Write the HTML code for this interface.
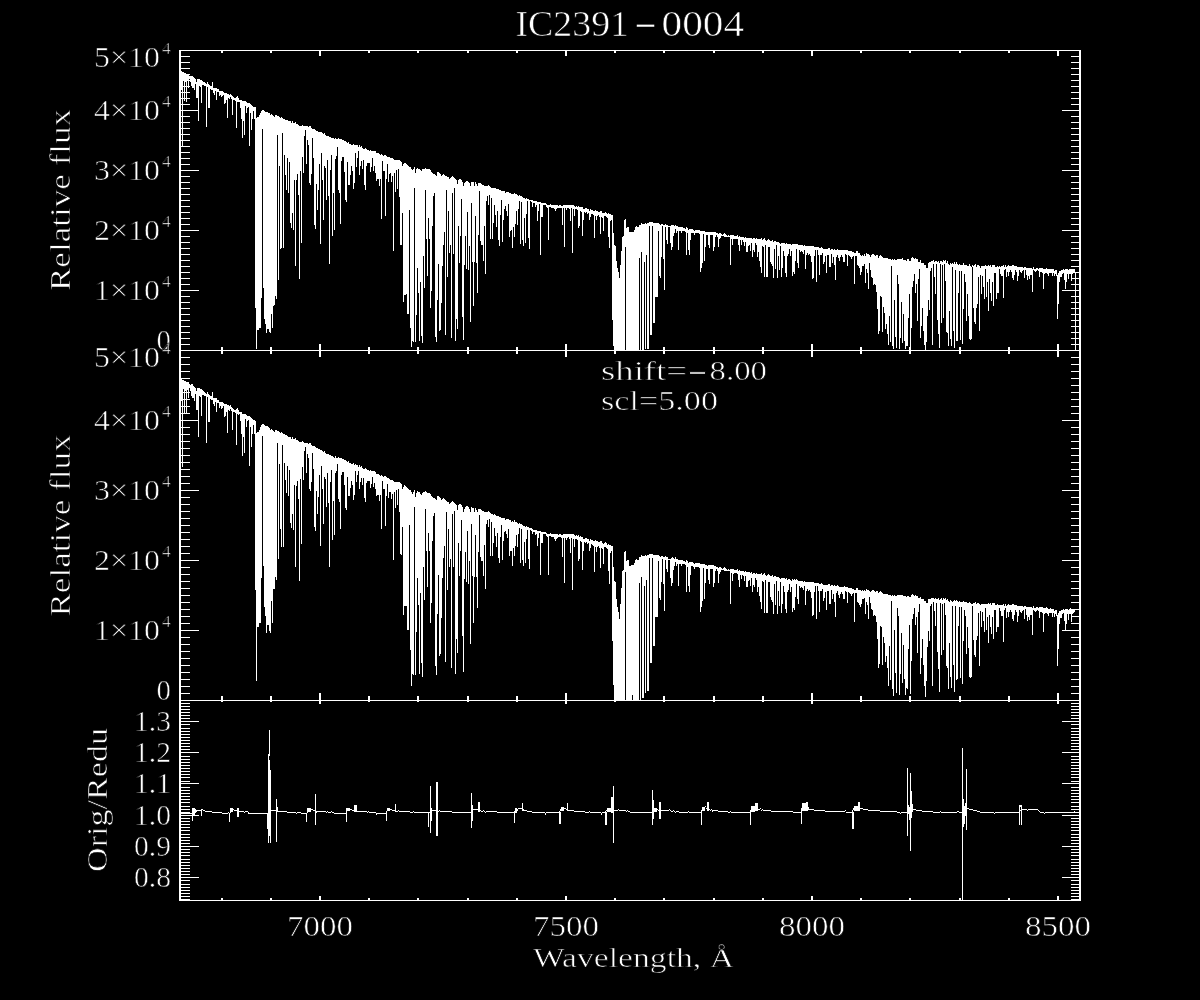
<!DOCTYPE html><html><head><meta charset="utf-8"><title>IC2391-0004</title><style>html,body{margin:0;padding:0;background:#000;width:1200px;height:1000px;overflow:hidden}svg{display:block}</style></head><body><svg width="1200" height="1000" viewBox="0 0 1200 1000"><rect width="1200" height="1000" fill="#000"/><path fill="#fff" shape-rendering="crispEdges" d="M179 50h2v851h-2zM1079 50h2v851h-2zM179 50h902v1h-902zM179 350h902v1h-902zM179 700h902v1h-902zM179 900h902v1h-902zM221 51h2v2h-2zM221 347h2v3h-2zM270 51h2v2h-2zM270 347h2v3h-2zM319 51h2v5h-2zM319 344h2v6h-2zM368 51h2v2h-2zM368 347h2v3h-2zM417 51h2v2h-2zM417 347h2v3h-2zM467 51h2v2h-2zM467 347h2v3h-2zM516 51h2v2h-2zM516 347h2v3h-2zM565 51h2v5h-2zM565 344h2v6h-2zM614 51h2v2h-2zM614 347h2v3h-2zM663 51h2v2h-2zM663 347h2v3h-2zM713 51h2v2h-2zM713 347h2v3h-2zM762 51h2v2h-2zM762 347h2v3h-2zM811 51h2v5h-2zM811 344h2v6h-2zM860 51h2v2h-2zM860 347h2v3h-2zM909 51h2v2h-2zM909 347h2v3h-2zM959 51h2v2h-2zM959 347h2v3h-2zM1008 51h2v2h-2zM1008 347h2v3h-2zM1057 51h2v5h-2zM1057 344h2v6h-2zM221 351h2v3h-2zM221 696h2v4h-2zM270 351h2v3h-2zM270 696h2v4h-2zM319 351h2v6h-2zM319 693h2v7h-2zM368 351h2v3h-2zM368 696h2v4h-2zM417 351h2v3h-2zM417 696h2v4h-2zM467 351h2v3h-2zM467 696h2v4h-2zM516 351h2v3h-2zM516 696h2v4h-2zM565 351h2v6h-2zM565 693h2v7h-2zM614 351h2v3h-2zM614 696h2v4h-2zM663 351h2v3h-2zM663 696h2v4h-2zM713 351h2v3h-2zM713 696h2v4h-2zM762 351h2v3h-2zM762 696h2v4h-2zM811 351h2v6h-2zM811 693h2v7h-2zM860 351h2v3h-2zM860 696h2v4h-2zM909 351h2v3h-2zM909 696h2v4h-2zM959 351h2v3h-2zM959 696h2v4h-2zM1008 351h2v3h-2zM1008 696h2v4h-2zM1057 351h2v6h-2zM1057 693h2v7h-2zM221 701h2v1h-2zM221 898h2v2h-2zM270 701h2v1h-2zM270 898h2v2h-2zM319 701h2v3h-2zM319 896h2v4h-2zM368 701h2v1h-2zM368 898h2v2h-2zM417 701h2v1h-2zM417 898h2v2h-2zM467 701h2v1h-2zM467 898h2v2h-2zM516 701h2v1h-2zM516 898h2v2h-2zM565 701h2v3h-2zM565 896h2v4h-2zM614 701h2v1h-2zM614 898h2v2h-2zM663 701h2v1h-2zM663 898h2v2h-2zM713 701h2v1h-2zM713 898h2v2h-2zM762 701h2v1h-2zM762 898h2v2h-2zM811 701h2v3h-2zM811 896h2v4h-2zM860 701h2v1h-2zM860 898h2v2h-2zM909 701h2v1h-2zM909 898h2v2h-2zM959 701h2v1h-2zM959 898h2v2h-2zM1008 701h2v1h-2zM1008 898h2v2h-2zM1057 701h2v3h-2zM1057 896h2v4h-2zM181 350h18v1h-18zM1062 350h17v1h-17zM181 290h18v1h-18zM1062 290h17v1h-17zM181 230h18v1h-18zM1062 230h17v1h-17zM181 170h18v1h-18zM1062 170h17v1h-17zM181 110h18v1h-18zM1062 110h17v1h-17zM181 50h18v1h-18zM1062 50h17v1h-17zM181 344h9v1h-9zM1071 344h8v1h-8zM181 338h9v1h-9zM1071 338h8v1h-8zM181 332h9v1h-9zM1071 332h8v1h-8zM181 326h9v1h-9zM1071 326h8v1h-8zM181 320h9v1h-9zM1071 320h8v1h-8zM181 314h9v1h-9zM1071 314h8v1h-8zM181 308h9v1h-9zM1071 308h8v1h-8zM181 302h9v1h-9zM1071 302h8v1h-8zM181 296h9v1h-9zM1071 296h8v1h-8zM181 284h9v1h-9zM1071 284h8v1h-8zM181 278h9v1h-9zM1071 278h8v1h-8zM181 272h9v1h-9zM1071 272h8v1h-8zM181 266h9v1h-9zM1071 266h8v1h-8zM181 260h9v1h-9zM1071 260h8v1h-8zM181 254h9v1h-9zM1071 254h8v1h-8zM181 248h9v1h-9zM1071 248h8v1h-8zM181 242h9v1h-9zM1071 242h8v1h-8zM181 236h9v1h-9zM1071 236h8v1h-8zM181 224h9v1h-9zM1071 224h8v1h-8zM181 218h9v1h-9zM1071 218h8v1h-8zM181 212h9v1h-9zM1071 212h8v1h-8zM181 206h9v1h-9zM1071 206h8v1h-8zM181 200h9v1h-9zM1071 200h8v1h-8zM181 194h9v1h-9zM1071 194h8v1h-8zM181 188h9v1h-9zM1071 188h8v1h-8zM181 182h9v1h-9zM1071 182h8v1h-8zM181 176h9v1h-9zM1071 176h8v1h-8zM181 164h9v1h-9zM1071 164h8v1h-8zM181 158h9v1h-9zM1071 158h8v1h-8zM181 152h9v1h-9zM1071 152h8v1h-8zM181 146h9v1h-9zM1071 146h8v1h-8zM181 140h9v1h-9zM1071 140h8v1h-8zM181 134h9v1h-9zM1071 134h8v1h-8zM181 128h9v1h-9zM1071 128h8v1h-8zM181 122h9v1h-9zM1071 122h8v1h-8zM181 116h9v1h-9zM1071 116h8v1h-8zM181 104h9v1h-9zM1071 104h8v1h-8zM181 98h9v1h-9zM1071 98h8v1h-8zM181 92h9v1h-9zM1071 92h8v1h-8zM181 86h9v1h-9zM1071 86h8v1h-8zM181 80h9v1h-9zM1071 80h8v1h-8zM181 74h9v1h-9zM1071 74h8v1h-8zM181 68h9v1h-9zM1071 68h8v1h-8zM181 62h9v1h-9zM1071 62h8v1h-8zM181 56h9v1h-9zM1071 56h8v1h-8zM181 700h18v1h-18zM1062 700h17v1h-17zM181 630h18v1h-18zM1062 630h17v1h-17zM181 560h18v1h-18zM1062 560h17v1h-17zM181 490h18v1h-18zM1062 490h17v1h-17zM181 420h18v1h-18zM1062 420h17v1h-17zM181 350h18v1h-18zM1062 350h17v1h-17zM181 693h9v1h-9zM1071 693h8v1h-8zM181 686h9v1h-9zM1071 686h8v1h-8zM181 679h9v1h-9zM1071 679h8v1h-8zM181 672h9v1h-9zM1071 672h8v1h-8zM181 665h9v1h-9zM1071 665h8v1h-8zM181 658h9v1h-9zM1071 658h8v1h-8zM181 651h9v1h-9zM1071 651h8v1h-8zM181 644h9v1h-9zM1071 644h8v1h-8zM181 637h9v1h-9zM1071 637h8v1h-8zM181 623h9v1h-9zM1071 623h8v1h-8zM181 616h9v1h-9zM1071 616h8v1h-8zM181 609h9v1h-9zM1071 609h8v1h-8zM181 602h9v1h-9zM1071 602h8v1h-8zM181 595h9v1h-9zM1071 595h8v1h-8zM181 588h9v1h-9zM1071 588h8v1h-8zM181 581h9v1h-9zM1071 581h8v1h-8zM181 574h9v1h-9zM1071 574h8v1h-8zM181 567h9v1h-9zM1071 567h8v1h-8zM181 553h9v1h-9zM1071 553h8v1h-8zM181 546h9v1h-9zM1071 546h8v1h-8zM181 539h9v1h-9zM1071 539h8v1h-8zM181 532h9v1h-9zM1071 532h8v1h-8zM181 525h9v1h-9zM1071 525h8v1h-8zM181 518h9v1h-9zM1071 518h8v1h-8zM181 511h9v1h-9zM1071 511h8v1h-8zM181 504h9v1h-9zM1071 504h8v1h-8zM181 497h9v1h-9zM1071 497h8v1h-8zM181 483h9v1h-9zM1071 483h8v1h-8zM181 476h9v1h-9zM1071 476h8v1h-8zM181 469h9v1h-9zM1071 469h8v1h-8zM181 462h9v1h-9zM1071 462h8v1h-8zM181 455h9v1h-9zM1071 455h8v1h-8zM181 448h9v1h-9zM1071 448h8v1h-8zM181 441h9v1h-9zM1071 441h8v1h-8zM181 434h9v1h-9zM1071 434h8v1h-8zM181 427h9v1h-9zM1071 427h8v1h-8zM181 413h9v1h-9zM1071 413h8v1h-8zM181 406h9v1h-9zM1071 406h8v1h-8zM181 399h9v1h-9zM1071 399h8v1h-8zM181 392h9v1h-9zM1071 392h8v1h-8zM181 385h9v1h-9zM1071 385h8v1h-8zM181 378h9v1h-9zM1071 378h8v1h-8zM181 371h9v1h-9zM1071 371h8v1h-8zM181 364h9v1h-9zM1071 364h8v1h-8zM181 357h9v1h-9zM1071 357h8v1h-8zM181 877h18v1h-18zM1062 877h17v1h-17zM181 846h18v1h-18zM1062 846h17v1h-17zM181 815h18v1h-18zM1062 815h17v1h-17zM181 783h18v1h-18zM1062 783h17v1h-17zM181 752h18v1h-18zM1062 752h17v1h-17zM181 721h18v1h-18zM1062 721h17v1h-17zM181 899h9v1h-9zM1071 899h8v1h-8zM181 896h9v1h-9zM1071 896h8v1h-8zM181 893h9v1h-9zM1071 893h8v1h-8zM181 890h9v1h-9zM1071 890h8v1h-8zM181 887h9v1h-9zM1071 887h8v1h-8zM181 884h9v1h-9zM1071 884h8v1h-8zM181 880h9v1h-9zM1071 880h8v1h-8zM181 874h9v1h-9zM1071 874h8v1h-8zM181 871h9v1h-9zM1071 871h8v1h-8zM181 868h9v1h-9zM1071 868h8v1h-8zM181 865h9v1h-9zM1071 865h8v1h-8zM181 862h9v1h-9zM1071 862h8v1h-8zM181 859h9v1h-9zM1071 859h8v1h-8zM181 855h9v1h-9zM1071 855h8v1h-8zM181 852h9v1h-9zM1071 852h8v1h-8zM181 849h9v1h-9zM1071 849h8v1h-8zM181 843h9v1h-9zM1071 843h8v1h-8zM181 840h9v1h-9zM1071 840h8v1h-8zM181 837h9v1h-9zM1071 837h8v1h-8zM181 834h9v1h-9zM1071 834h8v1h-8zM181 830h9v1h-9zM1071 830h8v1h-8zM181 827h9v1h-9zM1071 827h8v1h-8zM181 824h9v1h-9zM1071 824h8v1h-8zM181 821h9v1h-9zM1071 821h8v1h-8zM181 818h9v1h-9zM1071 818h8v1h-8zM181 812h9v1h-9zM1071 812h8v1h-8zM181 809h9v1h-9zM1071 809h8v1h-8zM181 806h9v1h-9zM1071 806h8v1h-8zM181 802h9v1h-9zM1071 802h8v1h-8zM181 799h9v1h-9zM1071 799h8v1h-8zM181 796h9v1h-9zM1071 796h8v1h-8zM181 793h9v1h-9zM1071 793h8v1h-8zM181 790h9v1h-9zM1071 790h8v1h-8zM181 787h9v1h-9zM1071 787h8v1h-8zM181 781h9v1h-9zM1071 781h8v1h-8zM181 777h9v1h-9zM1071 777h8v1h-8zM181 774h9v1h-9zM1071 774h8v1h-8zM181 771h9v1h-9zM1071 771h8v1h-8zM181 768h9v1h-9zM1071 768h8v1h-8zM181 765h9v1h-9zM1071 765h8v1h-8zM181 762h9v1h-9zM1071 762h8v1h-8zM181 759h9v1h-9zM1071 759h8v1h-8zM181 756h9v1h-9zM1071 756h8v1h-8zM181 749h9v1h-9zM1071 749h8v1h-8zM181 746h9v1h-9zM1071 746h8v1h-8zM181 743h9v1h-9zM1071 743h8v1h-8zM181 740h9v1h-9zM1071 740h8v1h-8zM181 737h9v1h-9zM1071 737h8v1h-8zM181 734h9v1h-9zM1071 734h8v1h-8zM181 731h9v1h-9zM1071 731h8v1h-8zM181 728h9v1h-9zM1071 728h8v1h-8zM181 724h9v1h-9zM1071 724h8v1h-8zM181 718h9v1h-9zM1071 718h8v1h-8zM181 715h9v1h-9zM1071 715h8v1h-8zM181 712h9v1h-9zM1071 712h8v1h-8zM181 709h9v1h-9zM1071 709h8v1h-8zM181 706h9v1h-9zM1071 706h8v1h-8zM181 703h9v1h-9zM1071 703h8v1h-8z"/><path fill="#fff" shape-rendering="crispEdges" d="M181 71h1V90h-1zM182 72h1V147h-1zM183 72h1V80h-1zM184 73h1V101h-1zM185 73h1V82h-1zM186 74h1V102h-1zM187 74h1V81h-1zM188 74h1V88h-1zM189 76h1V79h-1zM190 76h1V82h-1zM191 76h1V86h-1zM192 76h1V88h-1zM193 77h1V88h-1zM194 78h1V90h-1zM195 79h1V84h-1zM196 82h1V98h-1zM197 79h1V98h-1zM198 79h1V121h-1zM199 79h1V86h-1zM200 80h1V87h-1zM201 80h1V103h-1zM202 81h1V85h-1zM203 82h1V85h-1zM204 82h1V86h-1zM205 83h1V86h-1zM206 84h1V127h-1zM207 82h1V87h-1zM208 84h1V108h-1zM209 85h1V108h-1zM210 86h1V89h-1zM211 86h1V90h-1zM212 82h1V90h-1zM213 88h1V93h-1zM214 88h1V95h-1zM215 88h1V91h-1zM216 88h1V100h-1zM217 89h1V92h-1zM218 89h1V92h-1zM219 91h1V96h-1zM220 91h1V95h-1zM221 91h1V97h-1zM222 91h1V96h-1zM223 92h1V95h-1zM224 93h1V104h-1zM225 93h1V103h-1zM226 93h1V100h-1zM227 94h1V118h-1zM228 94h1V98h-1zM229 95h1V99h-1zM230 94h1V97h-1zM231 95h1V99h-1zM232 96h1V115h-1zM233 97h1V100h-1zM234 98h1V100h-1zM235 98h1V101h-1zM236 97h1V128h-1zM237 96h1V102h-1zM238 98h1V102h-1zM239 100h1V102h-1zM240 100h1V108h-1zM241 100h1V119h-1zM242 101h1V138h-1zM243 101h1V121h-1zM244 101h1V135h-1zM245 101h1V106h-1zM246 102h1V113h-1zM247 103h1V108h-1zM248 103h1V107h-1zM249 103h1V146h-1zM250 104h1V113h-1zM251 105h1V130h-1zM252 106h1V119h-1zM253 107h1V111h-1zM254 107h1V119h-1zM255 107h1V308h-1zM256 118h1V349h-1zM257 117h1V330h-1zM258 117h1V330h-1zM259 115h1V328h-1zM260 113h1V328h-1zM261 111h1V298h-1zM262 110h1V129h-1zM263 110h1V288h-1zM264 111h1V319h-1zM265 112h1V324h-1zM266 112h1V333h-1zM267 112h1V329h-1zM268 113h1V329h-1zM269 113h1V332h-1zM270 115h1V333h-1zM271 114h1V314h-1zM272 115h1V328h-1zM273 116h1V306h-1zM274 117h1V305h-1zM275 115h1V296h-1zM276 115h1V299h-1zM277 116h1V135h-1zM278 116h1V280h-1zM279 117h1V166h-1zM280 118h1V249h-1zM281 117h1V248h-1zM282 118h1V133h-1zM283 119h1V248h-1zM284 119h1V155h-1zM285 120h1V175h-1zM286 120h1V190h-1zM287 120h1V158h-1zM288 121h1V193h-1zM289 121h1V162h-1zM290 121h1V223h-1zM291 123h1V228h-1zM292 121h1V213h-1zM293 123h1V230h-1zM294 123h1V180h-1zM295 122h1V266h-1zM296 124h1V180h-1zM297 124h1V174h-1zM298 125h1V195h-1zM299 126h1V279h-1zM300 126h1V171h-1zM301 126h1V243h-1zM302 125h1V157h-1zM303 126h1V173h-1zM304 126h1V136h-1zM305 126h1V130h-1zM306 126h1V164h-1zM307 126h1V140h-1zM308 127h1V145h-1zM309 126h1V183h-1zM310 126h1V185h-1zM311 128h1V174h-1zM312 129h1V138h-1zM313 129h1V158h-1zM314 129h1V225h-1zM315 130h1V229h-1zM316 131h1V184h-1zM317 131h1V210h-1zM318 132h1V190h-1zM319 132h1V164h-1zM320 132h1V244h-1zM321 132h1V153h-1zM322 133h1V180h-1zM323 134h1V220h-1zM324 133h1V166h-1zM325 135h1V168h-1zM326 136h1V200h-1zM327 136h1V160h-1zM328 136h1V196h-1zM329 137h1V264h-1zM330 137h1V170h-1zM331 138h1V155h-1zM332 138h1V236h-1zM333 138h1V193h-1zM334 139h1V230h-1zM335 138h1V159h-1zM336 139h1V156h-1zM337 139h1V147h-1zM338 138h1V190h-1zM339 139h1V193h-1zM340 139h1V224h-1zM341 139h1V161h-1zM342 140h1V157h-1zM343 140h1V157h-1zM344 141h1V172h-1zM345 141h1V200h-1zM346 142h1V202h-1zM347 143h1V162h-1zM348 142h1V185h-1zM349 144h1V185h-1zM350 144h1V175h-1zM351 145h1V166h-1zM352 145h1V171h-1zM353 144h1V189h-1zM354 145h1V183h-1zM355 145h1V153h-1zM356 145h1V167h-1zM357 145h1V158h-1zM358 147h1V151h-1zM359 145h1V175h-1zM360 147h1V166h-1zM361 146h1V161h-1zM362 148h1V169h-1zM363 149h1V160h-1zM364 149h1V185h-1zM365 148h1V190h-1zM366 149h1V166h-1zM367 150h1V163h-1zM368 150h1V163h-1zM369 151h1V163h-1zM370 150h1V172h-1zM371 151h1V167h-1zM372 151h1V158h-1zM373 151h1V171h-1zM374 151h1V166h-1zM375 151h1V173h-1zM376 153h1V181h-1zM377 153h1V179h-1zM378 153h1V179h-1zM379 154h1V186h-1zM380 155h1V179h-1zM381 154h1V219h-1zM382 155h1V161h-1zM383 156h1V171h-1zM384 155h1V171h-1zM385 155h1V216h-1zM386 156h1V179h-1zM387 157h1V164h-1zM388 157h1V182h-1zM389 157h1V174h-1zM390 158h1V173h-1zM391 158h1V182h-1zM392 158h1V176h-1zM393 159h1V251h-1zM394 160h1V173h-1zM395 160h1V192h-1zM396 160h1V170h-1zM397 160h1V189h-1zM398 160h1V169h-1zM399 160h1V197h-1zM400 161h1V245h-1zM401 162h1V245h-1zM402 166h1V213h-1zM403 164h1V302h-1zM404 163h1V295h-1zM405 163h1V295h-1zM406 164h1V294h-1zM407 165h1V314h-1zM408 166h1V314h-1zM409 167h1V210h-1zM410 167h1V328h-1zM411 169h1V347h-1zM412 170h1V341h-1zM413 169h1V342h-1zM414 167h1V188h-1zM415 173h1V342h-1zM416 169h1V315h-1zM417 168h1V268h-1zM418 169h1V293h-1zM419 169h1V341h-1zM420 170h1V282h-1zM421 171h1V336h-1zM422 169h1V343h-1zM423 169h1V256h-1zM424 169h1V288h-1zM425 168h1V190h-1zM426 169h1V239h-1zM427 169h1V276h-1zM428 169h1V218h-1zM429 169h1V239h-1zM430 170h1V308h-1zM431 172h1V291h-1zM432 173h1V226h-1zM433 174h1V196h-1zM434 174h1V193h-1zM435 175h1V337h-1zM436 176h1V342h-1zM437 172h1V300h-1zM438 172h1V264h-1zM439 173h1V331h-1zM440 174h1V330h-1zM441 176h1V303h-1zM442 175h1V266h-1zM443 174h1V245h-1zM444 175h1V232h-1zM445 176h1V335h-1zM446 176h1V190h-1zM447 177h1V277h-1zM448 177h1V211h-1zM449 179h1V253h-1zM450 178h1V245h-1zM451 177h1V338h-1zM452 176h1V193h-1zM453 177h1V254h-1zM454 178h1V188h-1zM455 179h1V341h-1zM456 180h1V319h-1zM457 184h1V329h-1zM458 180h1V226h-1zM459 179h1V263h-1zM460 179h1V236h-1zM461 180h1V199h-1zM462 182h1V317h-1zM463 186h1V340h-1zM464 183h1V265h-1zM465 182h1V236h-1zM466 181h1V269h-1zM467 181h1V212h-1zM468 182h1V270h-1zM469 183h1V246h-1zM470 186h1V322h-1zM471 182h1V203h-1zM472 182h1V262h-1zM473 182h1V306h-1zM474 186h1V262h-1zM475 182h1V216h-1zM476 184h1V263h-1zM477 186h1V293h-1zM478 183h1V235h-1zM479 183h1V191h-1zM480 183h1V241h-1zM481 184h1V245h-1zM482 185h1V245h-1zM483 185h1V261h-1zM484 186h1V226h-1zM485 186h1V274h-1zM486 186h1V201h-1zM487 186h1V196h-1zM488 185h1V205h-1zM489 186h1V195h-1zM490 187h1V239h-1zM491 188h1V198h-1zM492 188h1V239h-1zM493 188h1V223h-1zM494 188h1V205h-1zM495 188h1V215h-1zM496 189h1V227h-1zM497 189h1V211h-1zM498 189h1V240h-1zM499 190h1V246h-1zM500 190h1V215h-1zM501 191h1V200h-1zM502 191h1V242h-1zM503 191h1V220h-1zM504 191h1V209h-1zM505 193h1V206h-1zM506 192h1V211h-1zM507 192h1V216h-1zM508 192h1V204h-1zM509 193h1V237h-1zM510 193h1V231h-1zM511 194h1V230h-1zM512 194h1V248h-1zM513 194h1V227h-1zM514 193h1V237h-1zM515 194h1V224h-1zM516 194h1V211h-1zM517 195h1V225h-1zM518 196h1V209h-1zM519 195h1V201h-1zM520 196h1V244h-1zM521 196h1V202h-1zM522 197h1V240h-1zM523 198h1V246h-1zM524 198h1V218h-1zM525 199h1V243h-1zM526 198h1V214h-1zM527 199h1V201h-1zM528 199h1V238h-1zM529 200h1V249h-1zM530 200h1V201h-1zM531 200h1V202h-1zM532 200h1V207h-1zM533 201h1V203h-1zM534 201h1V203h-1zM535 201h1V207h-1zM536 201h1V205h-1zM537 202h1V221h-1zM538 202h1V211h-1zM539 202h1V204h-1zM540 202h1V255h-1zM541 203h1V217h-1zM542 203h1V217h-1zM543 203h1V205h-1zM544 203h1V205h-1zM545 203h1V205h-1zM546 204h1V207h-1zM547 205h1V208h-1zM548 205h1V240h-1zM549 205h1V207h-1zM550 204h1V207h-1zM551 205h1V208h-1zM552 205h1V208h-1zM553 205h1V208h-1zM554 205h1V209h-1zM555 205h1V211h-1zM556 205h1V209h-1zM557 205h1V208h-1zM558 206h1V208h-1zM559 205h1V208h-1zM560 205h1V208h-1zM561 206h1V208h-1zM562 206h1V225h-1zM563 205h1V208h-1zM564 205h1V247h-1zM565 205h1V208h-1zM566 205h1V210h-1zM567 205h1V208h-1zM568 205h1V208h-1zM569 205h1V209h-1zM570 205h1V221h-1zM571 205h1V208h-1zM572 205h1V253h-1zM573 205h1V209h-1zM574 206h1V216h-1zM575 207h1V209h-1zM576 206h1V209h-1zM577 207h1V210h-1zM578 206h1V228h-1zM579 207h1V226h-1zM580 207h1V211h-1zM581 207h1V212h-1zM582 207h1V236h-1zM583 209h1V220h-1zM584 209h1V212h-1zM585 208h1V213h-1zM586 208h1V212h-1zM587 209h1V214h-1zM588 209h1V213h-1zM589 211h1V220h-1zM590 209h1V217h-1zM591 210h1V214h-1zM592 210h1V214h-1zM593 211h1V215h-1zM594 211h1V238h-1zM595 210h1V216h-1zM596 211h1V220h-1zM597 211h1V216h-1zM598 212h1V215h-1zM599 212h1V217h-1zM600 211h1V234h-1zM601 211h1V217h-1zM602 213h1V218h-1zM603 213h1V231h-1zM604 213h1V216h-1zM605 212h1V216h-1zM606 213h1V217h-1zM607 214h1V218h-1zM608 213h1V237h-1zM609 214h1V248h-1zM610 214h1V221h-1zM611 215h1V220h-1zM612 215h1V320h-1zM613 233h1V346h-1zM614 245h1V350h-1zM615 246h1V351h-1zM616 261h1V351h-1zM617 268h1V351h-1zM618 272h1V351h-1zM619 278h1V351h-1zM620 265h1V351h-1zM621 251h1V351h-1zM622 237h1V351h-1zM623 236h1V351h-1zM624 220h1V351h-1zM625 219h1V247h-1zM626 228h1V351h-1zM627 227h1V351h-1zM628 227h1V351h-1zM629 232h1V351h-1zM630 232h1V351h-1zM631 232h1V351h-1zM632 232h1V350h-1zM633 232h1V351h-1zM634 230h1V351h-1zM635 227h1V351h-1zM636 226h1V351h-1zM637 227h1V351h-1zM638 227h1V351h-1zM639 225h1V258h-1zM640 225h1V351h-1zM641 223h1V252h-1zM642 224h1V350h-1zM643 224h1V350h-1zM644 224h1V262h-1zM645 223h1V349h-1zM646 224h1V255h-1zM647 223h1V349h-1zM648 223h1V349h-1zM649 222h1V226h-1zM650 222h1V335h-1zM651 222h1V335h-1zM652 222h1V226h-1zM653 223h1V323h-1zM654 223h1V323h-1zM655 223h1V297h-1zM656 223h1V297h-1zM657 223h1V297h-1zM658 223h1V231h-1zM659 224h1V276h-1zM660 225h1V278h-1zM661 224h1V257h-1zM662 224h1V226h-1zM663 225h1V259h-1zM664 225h1V290h-1zM665 224h1V227h-1zM666 225h1V240h-1zM667 225h1V244h-1zM668 226h1V227h-1zM669 226h1V227h-1zM670 226h1V243h-1zM671 225h1V250h-1zM672 225h1V247h-1zM673 225h1V236h-1zM674 226h1V233h-1zM675 225h1V229h-1zM676 226h1V233h-1zM677 226h1V231h-1zM678 227h1V250h-1zM679 227h1V231h-1zM680 227h1V231h-1zM681 227h1V233h-1zM682 227h1V231h-1zM683 228h1V231h-1zM684 228h1V231h-1zM685 229h1V232h-1zM686 227h1V255h-1zM687 228h1V233h-1zM688 230h1V250h-1zM689 229h1V255h-1zM690 229h1V240h-1zM691 229h1V233h-1zM692 229h1V233h-1zM693 230h1V233h-1zM694 231h1V235h-1zM695 230h1V233h-1zM696 230h1V233h-1zM697 230h1V233h-1zM698 230h1V233h-1zM699 230h1V234h-1zM700 231h1V272h-1zM701 231h1V268h-1zM702 231h1V263h-1zM703 231h1V234h-1zM704 231h1V261h-1zM705 232h1V247h-1zM706 232h1V235h-1zM707 232h1V235h-1zM708 232h1V245h-1zM709 232h1V248h-1zM710 232h1V235h-1zM711 232h1V235h-1zM712 232h1V235h-1zM713 232h1V251h-1zM714 232h1V247h-1zM715 232h1V237h-1zM716 233h1V235h-1zM717 233h1V237h-1zM718 234h1V247h-1zM719 233h1V239h-1zM720 233h1V238h-1zM721 234h1V236h-1zM722 235h1V236h-1zM723 234h1V236h-1zM724 233h1V237h-1zM725 234h1V237h-1zM726 235h1V237h-1zM727 236h1V237h-1zM728 235h1V237h-1zM729 236h1V237h-1zM730 235h1V265h-1zM731 235h1V239h-1zM732 235h1V245h-1zM733 235h1V239h-1zM734 236h1V239h-1zM735 236h1V239h-1zM736 236h1V239h-1zM737 235h1V239h-1zM738 237h1V245h-1zM739 236h1V251h-1zM740 237h1V240h-1zM741 237h1V245h-1zM742 237h1V240h-1zM743 237h1V242h-1zM744 238h1V246h-1zM745 237h1V242h-1zM746 238h1V252h-1zM747 238h1V252h-1zM748 238h1V246h-1zM749 238h1V245h-1zM750 238h1V251h-1zM751 238h1V243h-1zM752 239h1V257h-1zM753 238h1V250h-1zM754 238h1V252h-1zM755 239h1V243h-1zM756 238h1V245h-1zM757 239h1V257h-1zM758 239h1V252h-1zM759 239h1V261h-1zM760 239h1V267h-1zM761 238h1V273h-1zM762 240h1V246h-1zM763 239h1V247h-1zM764 238h1V277h-1zM765 240h1V245h-1zM766 241h1V277h-1zM767 240h1V277h-1zM768 239h1V247h-1zM769 240h1V247h-1zM770 241h1V262h-1zM771 241h1V264h-1zM772 240h1V266h-1zM773 242h1V278h-1zM774 241h1V249h-1zM775 241h1V269h-1zM776 242h1V245h-1zM777 242h1V278h-1zM778 242h1V256h-1zM779 243h1V270h-1zM780 244h1V246h-1zM781 243h1V277h-1zM782 243h1V268h-1zM783 243h1V251h-1zM784 243h1V256h-1zM785 244h1V273h-1zM786 243h1V277h-1zM787 244h1V256h-1zM788 244h1V254h-1zM789 244h1V249h-1zM790 244h1V256h-1zM791 245h1V251h-1zM792 244h1V276h-1zM793 244h1V272h-1zM794 244h1V274h-1zM795 244h1V261h-1zM796 244h1V249h-1zM797 244h1V263h-1zM798 245h1V268h-1zM799 245h1V250h-1zM800 245h1V252h-1zM801 245h1V251h-1zM802 245h1V252h-1zM803 246h1V254h-1zM804 245h1V250h-1zM805 246h1V269h-1zM806 246h1V255h-1zM807 246h1V253h-1zM808 246h1V255h-1zM809 246h1V254h-1zM810 246h1V256h-1zM811 246h1V262h-1zM812 246h1V279h-1zM813 246h1V278h-1zM814 247h1V256h-1zM815 247h1V250h-1zM816 247h1V282h-1zM817 247h1V250h-1zM818 247h1V255h-1zM819 248h1V275h-1zM820 248h1V255h-1zM821 247h1V255h-1zM822 248h1V253h-1zM823 249h1V264h-1zM824 249h1V262h-1zM825 249h1V256h-1zM826 249h1V273h-1zM827 249h1V255h-1zM828 248h1V255h-1zM829 248h1V267h-1zM830 250h1V267h-1zM831 249h1V254h-1zM832 249h1V263h-1zM833 250h1V257h-1zM834 249h1V265h-1zM835 250h1V280h-1zM836 250h1V257h-1zM837 249h1V255h-1zM838 250h1V258h-1zM839 250h1V261h-1zM840 250h1V257h-1zM841 250h1V255h-1zM842 250h1V257h-1zM843 250h1V262h-1zM844 250h1V262h-1zM845 250h1V254h-1zM846 250h1V255h-1zM847 250h1V266h-1zM848 251h1V255h-1zM849 251h1V256h-1zM850 251h1V257h-1zM851 251h1V259h-1zM852 252h1V257h-1zM853 252h1V256h-1zM854 253h1V284h-1zM855 253h1V256h-1zM856 251h1V256h-1zM857 251h1V265h-1zM858 253h1V266h-1zM859 253h1V268h-1zM860 255h1V275h-1zM861 256h1V272h-1zM862 255h1V266h-1zM863 256h1V266h-1zM864 254h1V264h-1zM865 256h1V283h-1zM866 253h1V269h-1zM867 254h1V273h-1zM868 254h1V289h-1zM869 255h1V263h-1zM870 257h1V270h-1zM871 255h1V277h-1zM872 254h1V278h-1zM873 254h1V285h-1zM874 255h1V284h-1zM875 256h1V285h-1zM876 255h1V292h-1zM877 255h1V309h-1zM878 258h1V334h-1zM879 256h1V331h-1zM880 255h1V296h-1zM881 256h1V297h-1zM882 257h1V332h-1zM883 258h1V307h-1zM884 258h1V313h-1zM885 258h1V329h-1zM886 258h1V324h-1zM887 258h1V334h-1zM888 259h1V345h-1zM889 259h1V316h-1zM890 259h1V342h-1zM891 260h1V266h-1zM892 259h1V346h-1zM893 260h1V349h-1zM894 259h1V300h-1zM895 260h1V337h-1zM896 260h1V348h-1zM897 259h1V275h-1zM898 259h1V284h-1zM899 259h1V349h-1zM900 259h1V338h-1zM901 259h1V302h-1zM902 258h1V343h-1zM903 260h1V314h-1zM904 260h1V341h-1zM905 260h1V349h-1zM906 261h1V346h-1zM907 259h1V346h-1zM908 259h1V318h-1zM909 261h1V294h-1zM910 261h1V349h-1zM911 258h1V328h-1zM912 257h1V287h-1zM913 258h1V281h-1zM914 259h1V274h-1zM915 258h1V293h-1zM916 259h1V284h-1zM917 259h1V321h-1zM918 262h1V279h-1zM919 262h1V269h-1zM920 260h1V338h-1zM921 263h1V326h-1zM922 263h1V308h-1zM923 263h1V331h-1zM924 265h1V345h-1zM925 265h1V350h-1zM926 268h1V342h-1zM927 268h1V316h-1zM928 263h1V300h-1zM929 262h1V310h-1zM930 262h1V271h-1zM931 261h1V268h-1zM932 261h1V345h-1zM933 260h1V264h-1zM934 262h1V277h-1zM935 261h1V294h-1zM936 261h1V264h-1zM937 262h1V320h-1zM938 261h1V334h-1zM939 263h1V348h-1zM940 261h1V264h-1zM941 261h1V323h-1zM942 262h1V265h-1zM943 260h1V318h-1zM944 261h1V264h-1zM945 260h1V281h-1zM946 263h1V332h-1zM947 261h1V333h-1zM948 264h1V346h-1zM949 265h1V311h-1zM950 263h1V339h-1zM951 264h1V346h-1zM952 263h1V267h-1zM953 264h1V331h-1zM954 262h1V348h-1zM955 264h1V270h-1zM956 262h1V341h-1zM957 264h1V341h-1zM958 265h1V293h-1zM959 264h1V271h-1zM960 265h1V340h-1zM961 265h1V271h-1zM962 265h1V344h-1zM963 263h1V309h-1zM964 265h1V274h-1zM965 265h1V282h-1zM966 265h1V321h-1zM967 266h1V294h-1zM968 266h1V316h-1zM969 264h1V339h-1zM970 266h1V340h-1zM971 267h1V339h-1zM972 265h1V267h-1zM973 266h1V308h-1zM974 265h1V322h-1zM975 264h1V324h-1zM976 267h1V308h-1zM977 265h1V304h-1zM978 265h1V277h-1zM979 266h1V331h-1zM980 268h1V275h-1zM981 266h1V294h-1zM982 266h1V276h-1zM983 266h1V287h-1zM984 266h1V299h-1zM985 265h1V269h-1zM986 266h1V297h-1zM987 266h1V282h-1zM988 265h1V311h-1zM989 266h1V279h-1zM990 265h1V293h-1zM991 267h1V301h-1zM992 265h1V282h-1zM993 265h1V306h-1zM994 265h1V273h-1zM995 267h1V273h-1zM996 267h1V299h-1zM997 266h1V293h-1zM998 267h1V293h-1zM999 266h1V269h-1zM1000 267h1V274h-1zM1001 266h1V276h-1zM1002 266h1V276h-1zM1003 265h1V298h-1zM1004 267h1V270h-1zM1005 265h1V269h-1zM1006 267h1V277h-1zM1007 266h1V272h-1zM1008 265h1V276h-1zM1009 266h1V272h-1zM1010 266h1V270h-1zM1011 266h1V272h-1zM1012 265h1V278h-1zM1013 265h1V280h-1zM1014 266h1V275h-1zM1015 266h1V270h-1zM1016 266h1V272h-1zM1017 267h1V281h-1zM1018 267h1V276h-1zM1019 267h1V270h-1zM1020 267h1V272h-1zM1021 267h1V273h-1zM1022 267h1V271h-1zM1023 268h1V270h-1zM1024 267h1V278h-1zM1025 267h1V270h-1zM1026 268h1V275h-1zM1027 268h1V280h-1zM1028 268h1V276h-1zM1029 268h1V279h-1zM1030 268h1V275h-1zM1031 268h1V275h-1zM1032 269h1V292h-1zM1033 267h1V270h-1zM1034 269h1V271h-1zM1035 269h1V272h-1zM1036 268h1V271h-1zM1037 268h1V270h-1zM1038 269h1V271h-1zM1039 268h1V277h-1zM1040 268h1V272h-1zM1041 268h1V272h-1zM1042 268h1V273h-1zM1043 269h1V289h-1zM1044 269h1V274h-1zM1045 269h1V273h-1zM1046 268h1V273h-1zM1047 269h1V274h-1zM1048 269h1V276h-1zM1049 269h1V273h-1zM1050 269h1V273h-1zM1051 269h1V273h-1zM1052 269h1V276h-1zM1053 269h1V273h-1zM1054 271h1V276h-1zM1055 270h1V274h-1zM1056 270h1V276h-1zM1057 275h1V319h-1zM1058 273h1V304h-1zM1059 271h1V282h-1zM1060 271h1V277h-1zM1061 270h1V277h-1zM1062 270h1V274h-1zM1063 269h1V273h-1zM1064 270h1V280h-1zM1065 269h1V289h-1zM1066 269h1V282h-1zM1067 269h1V274h-1zM1068 270h1V279h-1zM1069 269h1V274h-1zM1070 269h1V274h-1zM1071 269h1V281h-1zM1072 269h1V274h-1zM1073 269h1V273h-1zM1074 269h1V272h-1zM1075 272h1V351h-1z"/><path fill="#fff" shape-rendering="crispEdges" d="M181 379h1V401h-1zM182 380h1V467h-1zM183 380h1V389h-1zM184 381h1V413h-1zM185 381h1V391h-1zM186 382h1V414h-1zM187 382h1V390h-1zM188 382h1V398h-1zM189 384h1V388h-1zM190 385h1V391h-1zM191 384h1V396h-1zM192 384h1V398h-1zM193 386h1V398h-1zM194 387h1V401h-1zM195 388h1V394h-1zM196 391h1V410h-1zM197 388h1V410h-1zM198 388h1V437h-1zM199 388h1V396h-1zM200 389h1V397h-1zM201 389h1V416h-1zM202 390h1V395h-1zM203 391h1V395h-1zM204 392h1V396h-1zM205 393h1V396h-1zM206 394h1V443h-1zM207 392h1V397h-1zM208 394h1V422h-1zM209 395h1V422h-1zM210 396h1V399h-1zM211 396h1V400h-1zM212 392h1V400h-1zM213 398h1V404h-1zM214 398h1V406h-1zM215 398h1V402h-1zM216 398h1V412h-1zM217 400h1V403h-1zM218 400h1V403h-1zM219 402h1V408h-1zM220 402h1V406h-1zM221 402h1V409h-1zM222 402h1V408h-1zM223 403h1V406h-1zM224 404h1V417h-1zM225 404h1V416h-1zM226 404h1V412h-1zM227 405h1V433h-1zM228 405h1V410h-1zM229 406h1V411h-1zM230 405h1V409h-1zM231 407h1V411h-1zM232 408h1V430h-1zM233 409h1V412h-1zM234 410h1V412h-1zM235 410h1V413h-1zM236 409h1V445h-1zM237 408h1V414h-1zM238 410h1V415h-1zM239 412h1V414h-1zM240 412h1V421h-1zM241 412h1V434h-1zM242 414h1V456h-1zM243 414h1V437h-1zM244 414h1V453h-1zM245 414h1V419h-1zM246 415h1V427h-1zM247 416h1V421h-1zM248 416h1V420h-1zM249 416h1V466h-1zM250 417h1V427h-1zM251 418h1V447h-1zM252 419h1V434h-1zM253 420h1V425h-1zM254 420h1V434h-1zM255 421h1V590h-1zM256 433h1V681h-1zM257 432h1V627h-1zM258 432h1V627h-1zM259 430h1V623h-1zM260 427h1V623h-1zM261 425h1V578h-1zM262 424h1V436h-1zM263 424h1V566h-1zM264 425h1V607h-1zM265 426h1V616h-1zM266 426h1V633h-1zM267 426h1V625h-1zM268 427h1V625h-1zM269 428h1V631h-1zM270 430h1V633h-1zM271 429h1V601h-1zM272 430h1V623h-1zM273 431h1V589h-1zM274 432h1V589h-1zM275 430h1V577h-1zM276 430h1V580h-1zM277 431h1V443h-1zM278 431h1V559h-1zM279 432h1V464h-1zM280 433h1V529h-1zM281 432h1V547h-1zM282 433h1V445h-1zM283 434h1V547h-1zM284 434h1V463h-1zM285 435h1V480h-1zM286 435h1V493h-1zM287 436h1V466h-1zM288 437h1V496h-1zM289 437h1V470h-1zM290 437h1V523h-1zM291 439h1V528h-1zM292 437h1V514h-1zM293 439h1V530h-1zM294 439h1V485h-1zM295 438h1V567h-1zM296 440h1V486h-1zM297 440h1V481h-1zM298 441h1V499h-1zM299 442h1V581h-1zM300 442h1V479h-1zM301 442h1V544h-1zM302 441h1V467h-1zM303 442h1V480h-1zM304 443h1V451h-1zM305 443h1V447h-1zM306 443h1V473h-1zM307 443h1V454h-1zM308 444h1V458h-1zM309 443h1V489h-1zM310 443h1V491h-1zM311 445h1V482h-1zM312 446h1V453h-1zM313 446h1V469h-1zM314 446h1V527h-1zM315 447h1V531h-1zM316 448h1V491h-1zM317 448h1V514h-1zM318 449h1V497h-1zM319 449h1V475h-1zM320 450h1V546h-1zM321 450h1V466h-1zM322 451h1V489h-1zM323 452h1V524h-1zM324 451h1V477h-1zM325 453h1V479h-1zM326 454h1V507h-1zM327 454h1V473h-1zM328 454h1V503h-1zM329 455h1V567h-1zM330 455h1V482h-1zM331 456h1V470h-1zM332 456h1V540h-1zM333 457h1V501h-1zM334 458h1V535h-1zM335 456h1V473h-1zM336 458h1V471h-1zM337 458h1V464h-1zM338 457h1V499h-1zM339 458h1V502h-1zM340 458h1V529h-1zM341 458h1V475h-1zM342 459h1V472h-1zM343 459h1V472h-1zM344 460h1V485h-1zM345 460h1V508h-1zM346 461h1V510h-1zM347 462h1V477h-1zM348 461h1V496h-1zM349 463h1V496h-1zM350 463h1V488h-1zM351 464h1V481h-1zM352 464h1V485h-1zM353 463h1V500h-1zM354 465h1V495h-1zM355 464h1V471h-1zM356 465h1V482h-1zM357 465h1V475h-1zM358 467h1V471h-1zM359 465h1V489h-1zM360 467h1V482h-1zM361 466h1V478h-1zM362 468h1V485h-1zM363 469h1V478h-1zM364 469h1V498h-1zM365 468h1V502h-1zM366 469h1V483h-1zM367 470h1V481h-1zM368 470h1V481h-1zM369 471h1V481h-1zM370 470h1V488h-1zM371 471h1V484h-1zM372 471h1V477h-1zM373 471h1V487h-1zM374 471h1V483h-1zM375 472h1V489h-1zM376 474h1V496h-1zM377 474h1V495h-1zM378 474h1V495h-1zM379 475h1V501h-1zM380 476h1V495h-1zM381 475h1V529h-1zM382 476h1V481h-1zM383 477h1V489h-1zM384 476h1V489h-1zM385 476h1V526h-1zM386 477h1V496h-1zM387 478h1V484h-1zM388 478h1V498h-1zM389 479h1V492h-1zM390 480h1V492h-1zM391 480h1V499h-1zM392 480h1V494h-1zM393 481h1V560h-1zM394 482h1V492h-1zM395 482h1V508h-1zM396 482h1V490h-1zM397 482h1V505h-1zM398 482h1V489h-1zM399 482h1V512h-1zM400 483h1V554h-1zM401 484h1V555h-1zM402 489h1V527h-1zM403 487h1V615h-1zM404 485h1V606h-1zM405 486h1V606h-1zM406 487h1V606h-1zM407 488h1V630h-1zM408 489h1V630h-1zM409 490h1V525h-1zM410 490h1V650h-1zM411 492h1V686h-1zM412 494h1V674h-1zM413 492h1V675h-1zM414 490h1V507h-1zM415 497h1V675h-1zM416 493h1V632h-1zM417 491h1V578h-1zM418 492h1V605h-1zM419 492h1V674h-1zM420 494h1V593h-1zM421 495h1V663h-1zM422 493h1V677h-1zM423 492h1V567h-1zM424 492h1V600h-1zM425 491h1V509h-1zM426 492h1V551h-1zM427 493h1V587h-1zM428 493h1V533h-1zM429 493h1V551h-1zM430 494h1V623h-1zM431 496h1V603h-1zM432 497h1V541h-1zM433 498h1V516h-1zM434 498h1V513h-1zM435 499h1V666h-1zM436 500h1V675h-1zM437 496h1V614h-1zM438 496h1V575h-1zM439 497h1V656h-1zM440 498h1V654h-1zM441 500h1V618h-1zM442 499h1V578h-1zM443 498h1V558h-1zM444 499h1V546h-1zM445 500h1V662h-1zM446 501h1V512h-1zM447 502h1V590h-1zM448 502h1V529h-1zM449 504h1V567h-1zM450 503h1V559h-1zM451 502h1V668h-1zM452 501h1V514h-1zM453 502h1V567h-1zM454 503h1V511h-1zM455 504h1V674h-1zM456 505h1V639h-1zM457 510h1V653h-1zM458 505h1V543h-1zM459 504h1V576h-1zM460 504h1V551h-1zM461 505h1V520h-1zM462 507h1V636h-1zM463 512h1V672h-1zM464 509h1V579h-1zM465 507h1V552h-1zM466 506h1V582h-1zM467 506h1V531h-1zM468 507h1V584h-1zM469 509h1V561h-1zM470 512h1V644h-1zM471 507h1V524h-1zM472 508h1V576h-1zM473 508h1V623h-1zM474 512h1V577h-1zM475 508h1V535h-1zM476 510h1V577h-1zM477 512h1V608h-1zM478 509h1V552h-1zM479 509h1V515h-1zM480 509h1V557h-1zM481 510h1V561h-1zM482 511h1V561h-1zM483 511h1V576h-1zM484 512h1V545h-1zM485 512h1V589h-1zM486 512h1V524h-1zM487 512h1V520h-1zM488 511h1V527h-1zM489 512h1V519h-1zM490 513h1V556h-1zM491 514h1V522h-1zM492 514h1V556h-1zM493 515h1V543h-1zM494 514h1V528h-1zM495 515h1V536h-1zM496 516h1V547h-1zM497 516h1V533h-1zM498 516h1V558h-1zM499 517h1V563h-1zM500 517h1V537h-1zM501 518h1V525h-1zM502 518h1V560h-1zM503 518h1V541h-1zM504 518h1V532h-1zM505 520h1V531h-1zM506 519h1V534h-1zM507 519h1V538h-1zM508 519h1V529h-1zM509 520h1V556h-1zM510 520h1V551h-1zM511 522h1V551h-1zM512 521h1V566h-1zM513 522h1V548h-1zM514 520h1V556h-1zM515 522h1V546h-1zM516 522h1V535h-1zM517 523h1V547h-1zM518 524h1V534h-1zM519 523h1V528h-1zM520 524h1V563h-1zM521 524h1V529h-1zM522 525h1V560h-1zM523 526h1V566h-1zM524 526h1V542h-1zM525 527h1V563h-1zM526 526h1V539h-1zM527 527h1V530h-1zM528 527h1V559h-1zM529 528h1V569h-1zM530 528h1V530h-1zM531 528h1V531h-1zM532 529h1V534h-1zM533 530h1V532h-1zM534 530h1V532h-1zM535 530h1V535h-1zM536 530h1V534h-1zM537 531h1V546h-1zM538 531h1V538h-1zM539 531h1V533h-1zM540 531h1V575h-1zM541 532h1V543h-1zM542 532h1V543h-1zM543 532h1V534h-1zM544 532h1V534h-1zM545 532h1V534h-1zM546 533h1V536h-1zM547 534h1V537h-1zM548 534h1V575h-1zM549 534h1V536h-1zM550 533h1V536h-1zM551 534h1V537h-1zM552 534h1V537h-1zM553 534h1V537h-1zM554 534h1V539h-1zM555 534h1V541h-1zM556 534h1V539h-1zM557 534h1V538h-1zM558 535h1V537h-1zM559 534h1V537h-1zM560 534h1V537h-1zM561 535h1V538h-1zM562 535h1V557h-1zM563 534h1V538h-1zM564 534h1V583h-1zM565 534h1V538h-1zM566 534h1V540h-1zM567 534h1V538h-1zM568 534h1V537h-1zM569 534h1V539h-1zM570 534h1V553h-1zM571 534h1V538h-1zM572 534h1V590h-1zM573 534h1V539h-1zM574 535h1V547h-1zM575 536h1V539h-1zM576 535h1V539h-1zM577 536h1V540h-1zM578 535h1V561h-1zM579 537h1V559h-1zM580 536h1V541h-1zM581 537h1V542h-1zM582 537h1V570h-1zM583 539h1V551h-1zM584 539h1V542h-1zM585 538h1V543h-1zM586 538h1V542h-1zM587 539h1V544h-1zM588 539h1V543h-1zM589 541h1V551h-1zM590 539h1V548h-1zM591 540h1V544h-1zM592 540h1V545h-1zM593 541h1V546h-1zM594 541h1V572h-1zM595 540h1V547h-1zM596 541h1V552h-1zM597 541h1V547h-1zM598 542h1V546h-1zM599 542h1V548h-1zM600 541h1V568h-1zM601 541h1V548h-1zM602 543h1V549h-1zM603 544h1V564h-1zM604 543h1V547h-1zM605 542h1V547h-1zM606 543h1V548h-1zM607 545h1V549h-1zM608 544h1V571h-1zM609 545h1V584h-1zM610 545h1V553h-1zM611 546h1V551h-1zM612 546h1V641h-1zM613 567h1V685h-1zM614 581h1V698h-1zM615 582h1V701h-1zM616 599h1V701h-1zM617 607h1V701h-1zM618 612h1V701h-1zM619 619h1V701h-1zM620 604h1V701h-1zM621 588h1V701h-1zM622 571h1V701h-1zM623 570h1V701h-1zM624 552h1V701h-1zM625 551h1V572h-1zM626 561h1V701h-1zM627 560h1V701h-1zM628 560h1V701h-1zM629 566h1V701h-1zM630 566h1V701h-1zM631 565h1V701h-1zM632 565h1V695h-1zM633 565h1V701h-1zM634 563h1V701h-1zM635 560h1V701h-1zM636 559h1V701h-1zM637 560h1V701h-1zM638 560h1V701h-1zM639 557h1V583h-1zM640 557h1V700h-1zM641 555h1V577h-1zM642 556h1V698h-1zM643 556h1V698h-1zM644 556h1V586h-1zM645 555h1V693h-1zM646 556h1V580h-1zM647 555h1V691h-1zM648 555h1V691h-1zM649 554h1V558h-1zM650 554h1V663h-1zM651 554h1V663h-1zM652 554h1V558h-1zM653 555h1V646h-1zM654 555h1V646h-1zM655 555h1V617h-1zM656 555h1V617h-1zM657 555h1V617h-1zM658 555h1V561h-1zM659 556h1V598h-1zM660 557h1V600h-1zM661 556h1V582h-1zM662 556h1V559h-1zM663 557h1V584h-1zM664 557h1V611h-1zM665 556h1V560h-1zM666 557h1V569h-1zM667 557h1V572h-1zM668 559h1V560h-1zM669 559h1V560h-1zM670 559h1V578h-1zM671 558h1V586h-1zM672 557h1V583h-1zM673 558h1V570h-1zM674 559h1V566h-1zM675 557h1V562h-1zM676 559h1V566h-1zM677 559h1V564h-1zM678 560h1V586h-1zM679 560h1V564h-1zM680 560h1V564h-1zM681 560h1V566h-1zM682 560h1V564h-1zM683 561h1V564h-1zM684 561h1V564h-1zM685 562h1V565h-1zM686 560h1V592h-1zM687 561h1V567h-1zM688 563h1V586h-1zM689 562h1V592h-1zM690 562h1V575h-1zM691 562h1V566h-1zM692 562h1V566h-1zM693 563h1V567h-1zM694 564h1V569h-1zM695 563h1V567h-1zM696 563h1V567h-1zM697 563h1V567h-1zM698 563h1V567h-1zM699 563h1V568h-1zM700 564h1V612h-1zM701 564h1V607h-1zM702 564h1V601h-1zM703 564h1V568h-1zM704 564h1V599h-1zM705 565h1V583h-1zM706 565h1V569h-1zM707 566h1V569h-1zM708 565h1V580h-1zM709 565h1V584h-1zM710 565h1V569h-1zM711 565h1V569h-1zM712 565h1V569h-1zM713 565h1V587h-1zM714 566h1V583h-1zM715 566h1V571h-1zM716 567h1V569h-1zM717 567h1V571h-1zM718 568h1V583h-1zM719 567h1V574h-1zM720 567h1V572h-1zM721 568h1V570h-1zM722 569h1V570h-1zM723 568h1V570h-1zM724 567h1V571h-1zM725 568h1V571h-1zM726 569h1V571h-1zM727 570h1V571h-1zM728 569h1V571h-1zM729 570h1V571h-1zM730 569h1V604h-1zM731 569h1V573h-1zM732 569h1V581h-1zM733 569h1V574h-1zM734 570h1V573h-1zM735 570h1V573h-1zM736 570h1V573h-1zM737 569h1V574h-1zM738 571h1V580h-1zM739 570h1V587h-1zM740 571h1V575h-1zM741 571h1V579h-1zM742 571h1V575h-1zM743 571h1V576h-1zM744 572h1V581h-1zM745 571h1V576h-1zM746 572h1V587h-1zM747 572h1V587h-1zM748 572h1V581h-1zM749 572h1V580h-1zM750 573h1V586h-1zM751 572h1V578h-1zM752 574h1V592h-1zM753 573h1V585h-1zM754 573h1V587h-1zM755 574h1V578h-1zM756 573h1V580h-1zM757 574h1V592h-1zM758 574h1V587h-1zM759 574h1V596h-1zM760 574h1V602h-1zM761 573h1V609h-1zM762 575h1V581h-1zM763 574h1V582h-1zM764 573h1V613h-1zM765 575h1V580h-1zM766 576h1V613h-1zM767 575h1V613h-1zM768 574h1V582h-1zM769 575h1V582h-1zM770 576h1V597h-1zM771 576h1V600h-1zM772 575h1V602h-1zM773 577h1V614h-1zM774 576h1V584h-1zM775 576h1V605h-1zM776 577h1V581h-1zM777 577h1V614h-1zM778 577h1V591h-1zM779 578h1V606h-1zM780 579h1V582h-1zM781 578h1V613h-1zM782 578h1V604h-1zM783 578h1V586h-1zM784 578h1V592h-1zM785 579h1V609h-1zM786 578h1V613h-1zM787 580h1V592h-1zM788 579h1V590h-1zM789 579h1V584h-1zM790 580h1V592h-1zM791 581h1V587h-1zM792 579h1V612h-1zM793 580h1V608h-1zM794 579h1V610h-1zM795 580h1V597h-1zM796 579h1V584h-1zM797 580h1V599h-1zM798 581h1V604h-1zM799 581h1V586h-1zM800 581h1V588h-1zM801 581h1V587h-1zM802 581h1V588h-1zM803 582h1V590h-1zM804 581h1V586h-1zM805 582h1V605h-1zM806 582h1V591h-1zM807 582h1V589h-1zM808 582h1V591h-1zM809 582h1V590h-1zM810 582h1V592h-1zM811 582h1V598h-1zM812 582h1V616h-1zM813 582h1V615h-1zM814 583h1V592h-1zM815 583h1V586h-1zM816 583h1V619h-1zM817 583h1V586h-1zM818 583h1V591h-1zM819 584h1V612h-1zM820 584h1V591h-1zM821 583h1V591h-1zM822 584h1V589h-1zM823 585h1V601h-1zM824 585h1V598h-1zM825 585h1V592h-1zM826 585h1V610h-1zM827 585h1V591h-1zM828 584h1V591h-1zM829 584h1V604h-1zM830 586h1V604h-1zM831 585h1V590h-1zM832 585h1V599h-1zM833 586h1V594h-1zM834 585h1V602h-1zM835 586h1V617h-1zM836 586h1V593h-1zM837 585h1V591h-1zM838 586h1V595h-1zM839 587h1V598h-1zM840 587h1V594h-1zM841 587h1V592h-1zM842 587h1V594h-1zM843 587h1V599h-1zM844 586h1V599h-1zM845 587h1V591h-1zM846 587h1V592h-1zM847 587h1V603h-1zM848 588h1V592h-1zM849 588h1V593h-1zM850 588h1V594h-1zM851 588h1V596h-1zM852 589h1V594h-1zM853 589h1V593h-1zM854 590h1V622h-1zM855 590h1V593h-1zM856 588h1V593h-1zM857 588h1V602h-1zM858 590h1V603h-1zM859 590h1V605h-1zM860 590h1V607h-1zM861 591h1V604h-1zM862 590h1V599h-1zM863 591h1V599h-1zM864 590h1V598h-1zM865 591h1V614h-1zM866 589h1V602h-1zM867 590h1V605h-1zM868 590h1V619h-1zM869 591h1V597h-1zM870 592h1V603h-1zM871 591h1V609h-1zM872 590h1V610h-1zM873 590h1V616h-1zM874 591h1V615h-1zM875 592h1V616h-1zM876 591h1V622h-1zM877 591h1V639h-1zM878 593h1V668h-1zM879 592h1V664h-1zM880 591h1V626h-1zM881 592h1V627h-1zM882 593h1V665h-1zM883 594h1V637h-1zM884 594h1V643h-1zM885 594h1V662h-1zM886 594h1V656h-1zM887 594h1V668h-1zM888 595h1V686h-1zM889 595h1V646h-1zM890 595h1V680h-1zM891 596h1V601h-1zM892 595h1V689h-1zM893 596h1V696h-1zM894 595h1V630h-1zM895 596h1V673h-1zM896 596h1V693h-1zM897 595h1V608h-1zM898 595h1V616h-1zM899 595h1V695h-1zM900 595h1V674h-1zM901 595h1V633h-1zM902 595h1V683h-1zM903 596h1V645h-1zM904 596h1V679h-1zM905 596h1V695h-1zM906 597h1V688h-1zM907 596h1V689h-1zM908 596h1V649h-1zM909 597h1V625h-1zM910 597h1V694h-1zM911 595h1V661h-1zM912 594h1V619h-1zM913 595h1V614h-1zM914 596h1V608h-1zM915 595h1V625h-1zM916 596h1V617h-1zM917 596h1V653h-1zM918 598h1V612h-1zM919 598h1V604h-1zM920 597h1V674h-1zM921 599h1V658h-1zM922 599h1V639h-1zM923 599h1V665h-1zM924 601h1V686h-1zM925 601h1V697h-1zM926 603h1V681h-1zM927 603h1V647h-1zM928 599h1V631h-1zM929 599h1V641h-1zM930 599h1V606h-1zM931 598h1V604h-1zM932 598h1V686h-1zM933 598h1V602h-1zM934 599h1V611h-1zM935 598h1V626h-1zM936 599h1V603h-1zM937 599h1V652h-1zM938 598h1V669h-1zM939 600h1V692h-1zM940 599h1V603h-1zM941 598h1V655h-1zM942 600h1V604h-1zM943 598h1V650h-1zM944 599h1V603h-1zM945 598h1V615h-1zM946 600h1V666h-1zM947 599h1V668h-1zM948 601h1V689h-1zM949 602h1V643h-1zM950 600h1V677h-1zM951 601h1V688h-1zM952 602h1V606h-1zM953 601h1V665h-1zM954 600h1V692h-1zM955 601h1V606h-1zM956 600h1V680h-1zM957 601h1V679h-1zM958 602h1V626h-1zM959 601h1V607h-1zM960 602h1V678h-1zM961 602h1V607h-1zM962 602h1V684h-1zM963 601h1V641h-1zM964 602h1V610h-1zM965 602h1V616h-1zM966 602h1V654h-1zM967 603h1V627h-1zM968 603h1V648h-1zM969 602h1V677h-1zM970 603h1V678h-1zM971 604h1V677h-1zM972 604h1V606h-1zM973 603h1V640h-1zM974 603h1V655h-1zM975 602h1V657h-1zM976 604h1V640h-1zM977 603h1V636h-1zM978 603h1V613h-1zM979 604h1V666h-1zM980 605h1V611h-1zM981 604h1V627h-1zM982 604h1V612h-1zM983 604h1V621h-1zM984 604h1V632h-1zM985 604h1V608h-1zM986 604h1V630h-1zM987 604h1V617h-1zM988 603h1V643h-1zM989 604h1V615h-1zM990 603h1V627h-1zM991 605h1V634h-1zM992 603h1V617h-1zM993 603h1V639h-1zM994 603h1V610h-1zM995 605h1V610h-1zM996 605h1V632h-1zM997 604h1V627h-1zM998 605h1V627h-1zM999 605h1V608h-1zM1000 605h1V611h-1zM1001 605h1V616h-1zM1002 605h1V616h-1zM1003 604h1V642h-1zM1004 606h1V610h-1zM1005 604h1V608h-1zM1006 606h1V618h-1zM1007 605h1V612h-1zM1008 604h1V617h-1zM1009 605h1V612h-1zM1010 605h1V610h-1zM1011 605h1V612h-1zM1012 604h1V619h-1zM1013 604h1V621h-1zM1014 605h1V615h-1zM1015 605h1V610h-1zM1016 605h1V612h-1zM1017 606h1V622h-1zM1018 606h1V616h-1zM1019 606h1V610h-1zM1020 606h1V612h-1zM1021 606h1V613h-1zM1022 606h1V611h-1zM1023 607h1V610h-1zM1024 606h1V619h-1zM1025 606h1V609h-1zM1026 607h1V615h-1zM1027 607h1V621h-1zM1028 607h1V617h-1zM1029 607h1V620h-1zM1030 607h1V615h-1zM1031 607h1V615h-1zM1032 608h1V635h-1zM1033 606h1V610h-1zM1034 608h1V611h-1zM1035 608h1V612h-1zM1036 607h1V611h-1zM1037 607h1V610h-1zM1038 608h1V611h-1zM1039 607h1V618h-1zM1040 607h1V612h-1zM1041 607h1V612h-1zM1042 607h1V613h-1zM1043 608h1V632h-1zM1044 608h1V614h-1zM1045 608h1V613h-1zM1046 607h1V613h-1zM1047 608h1V614h-1zM1048 609h1V616h-1zM1049 609h1V613h-1zM1050 608h1V613h-1zM1051 609h1V613h-1zM1052 609h1V617h-1zM1053 609h1V613h-1zM1054 611h1V617h-1zM1055 610h1V614h-1zM1056 610h1V616h-1zM1057 615h1V666h-1zM1058 613h1V649h-1zM1059 611h1V624h-1zM1060 611h1V618h-1zM1061 610h1V618h-1zM1062 610h1V614h-1zM1063 609h1V613h-1zM1064 610h1V621h-1zM1065 609h1V631h-1zM1066 609h1V624h-1zM1067 609h1V614h-1zM1068 610h1V620h-1zM1069 609h1V614h-1zM1070 608h1V614h-1zM1071 609h1V622h-1zM1072 609h1V614h-1zM1073 609h1V613h-1zM1074 609h1V612h-1z"/><path id="p3" fill="#fff" shape-rendering="crispEdges" d="M181 813h1V814h-1zM182 813h1V814h-1zM183 813h1V814h-1zM184 813h1V814h-1zM185 813h1V814h-1zM186 813h1V814h-1zM187 813h1V814h-1zM188 813h1V814h-1zM189 813h1V814h-1zM190 813h1V814h-1zM191 813h1V814h-1zM192 811h1V813h-1zM193 811h1V812h-1zM194 810h1V811h-1zM195 810h1V811h-1zM196 811h1V812h-1zM197 810h1V811h-1zM198 810h1V811h-1zM199 810h1V811h-1zM200 810h1V811h-1zM201 809h1V810h-1zM202 809h1V810h-1zM203 810h1V811h-1zM204 810h1V811h-1zM205 811h1V812h-1zM206 811h1V812h-1zM207 811h1V812h-1zM208 811h1V812h-1zM209 811h1V812h-1zM210 811h1V812h-1zM211 811h1V812h-1zM212 812h1V813h-1zM213 812h1V813h-1zM214 812h1V813h-1zM215 812h1V813h-1zM216 812h1V813h-1zM217 812h1V813h-1zM218 812h1V813h-1zM219 812h1V813h-1zM220 812h1V813h-1zM221 812h1V813h-1zM222 813h1V814h-1zM223 813h1V814h-1zM224 813h1V814h-1zM225 813h1V814h-1zM226 813h1V814h-1zM227 813h1V814h-1zM228 812h1V813h-1zM229 813h1V814h-1zM230 810h1V813h-1zM231 809h1V810h-1zM232 809h1V810h-1zM233 809h1V810h-1zM234 810h1V811h-1zM235 810h1V811h-1zM236 810h1V811h-1zM237 810h1V811h-1zM238 811h1V812h-1zM239 811h1V812h-1zM240 811h1V812h-1zM241 811h1V812h-1zM242 811h1V812h-1zM243 811h1V812h-1zM244 812h1V813h-1zM245 811h1V812h-1zM246 811h1V812h-1zM247 811h1V812h-1zM248 812h1V814h-1zM249 813h1V814h-1zM250 813h1V814h-1zM251 813h1V814h-1zM252 813h1V814h-1zM253 813h1V814h-1zM254 813h1V814h-1zM255 813h1V814h-1zM256 813h1V814h-1zM257 813h1V814h-1zM258 813h1V814h-1zM259 813h1V814h-1zM260 813h1V814h-1zM261 813h1V814h-1zM262 813h1V814h-1zM263 813h1V814h-1zM264 813h1V814h-1zM265 813h1V814h-1zM266 813h1V814h-1zM267 813h1V814h-1zM268 812h1V813h-1zM269 812h1V813h-1zM270 811h1V812h-1zM271 810h1V811h-1zM272 810h1V811h-1zM273 810h1V811h-1zM274 810h1V811h-1zM275 810h1V811h-1zM276 810h1V811h-1zM277 810h1V811h-1zM278 811h1V812h-1zM279 811h1V812h-1zM280 811h1V812h-1zM281 811h1V812h-1zM282 811h1V812h-1zM283 811h1V812h-1zM284 811h1V812h-1zM285 811h1V812h-1zM286 811h1V812h-1zM287 812h1V813h-1zM288 812h1V813h-1zM289 812h1V813h-1zM290 812h1V813h-1zM291 812h1V813h-1zM292 812h1V813h-1zM293 812h1V813h-1zM294 812h1V813h-1zM295 812h1V813h-1zM296 813h1V814h-1zM297 812h1V813h-1zM298 812h1V813h-1zM299 812h1V813h-1zM300 812h1V813h-1zM301 813h1V814h-1zM302 813h1V814h-1zM303 813h1V814h-1zM304 813h1V814h-1zM305 813h1V814h-1zM306 813h1V814h-1zM307 809h1V813h-1zM308 809h1V810h-1zM309 809h1V810h-1zM310 809h1V810h-1zM311 809h1V810h-1zM312 809h1V810h-1zM313 810h1V811h-1zM314 810h1V811h-1zM315 810h1V811h-1zM316 811h1V813h-1zM317 811h1V812h-1zM318 811h1V812h-1zM319 811h1V812h-1zM320 811h1V812h-1zM321 811h1V812h-1zM322 811h1V812h-1zM323 811h1V812h-1zM324 811h1V812h-1zM325 811h1V812h-1zM326 812h1V813h-1zM327 811h1V812h-1zM328 812h1V813h-1zM329 812h1V813h-1zM330 812h1V813h-1zM331 811h1V812h-1zM332 812h1V813h-1zM333 812h1V813h-1zM334 813h1V814h-1zM335 813h1V814h-1zM336 813h1V814h-1zM337 813h1V814h-1zM338 813h1V814h-1zM339 813h1V814h-1zM340 813h1V814h-1zM341 813h1V814h-1zM342 813h1V814h-1zM343 813h1V814h-1zM344 813h1V814h-1zM345 813h1V814h-1zM346 808h1V813h-1zM347 809h1V810h-1zM348 809h1V810h-1zM349 809h1V810h-1zM350 809h1V810h-1zM351 809h1V810h-1zM352 810h1V811h-1zM353 810h1V811h-1zM354 810h1V811h-1zM355 810h1V811h-1zM356 811h1V812h-1zM357 811h1V812h-1zM358 811h1V812h-1zM359 811h1V812h-1zM360 811h1V812h-1zM361 811h1V812h-1zM362 811h1V812h-1zM363 811h1V812h-1zM364 811h1V812h-1zM365 811h1V812h-1zM366 811h1V812h-1zM367 812h1V813h-1zM368 811h1V812h-1zM369 812h1V813h-1zM370 812h1V813h-1zM371 812h1V813h-1zM372 812h1V813h-1zM373 812h1V813h-1zM374 812h1V813h-1zM375 812h1V813h-1zM376 813h1V815h-1zM377 813h1V814h-1zM378 813h1V814h-1zM379 813h1V814h-1zM380 813h1V814h-1zM381 813h1V814h-1zM382 813h1V814h-1zM383 813h1V814h-1zM384 813h1V814h-1zM385 813h1V814h-1zM386 811h1V813h-1zM387 808h1V811h-1zM388 809h1V810h-1zM389 809h1V810h-1zM390 809h1V810h-1zM391 809h1V810h-1zM392 810h1V811h-1zM393 810h1V811h-1zM394 810h1V811h-1zM395 810h1V811h-1zM396 811h1V812h-1zM397 811h1V812h-1zM398 810h1V811h-1zM399 811h1V812h-1zM400 811h1V812h-1zM401 811h1V812h-1zM402 811h1V812h-1zM403 811h1V812h-1zM404 811h1V812h-1zM405 811h1V812h-1zM406 811h1V812h-1zM407 811h1V812h-1zM408 811h1V812h-1zM409 811h1V812h-1zM410 812h1V813h-1zM411 812h1V813h-1zM412 812h1V813h-1zM413 811h1V812h-1zM414 812h1V813h-1zM415 812h1V813h-1zM416 812h1V813h-1zM417 812h1V813h-1zM418 812h1V813h-1zM419 812h1V813h-1zM420 812h1V813h-1zM421 812h1V813h-1zM422 812h1V813h-1zM423 812h1V813h-1zM424 812h1V813h-1zM425 812h1V813h-1zM426 812h1V813h-1zM427 812h1V813h-1zM428 812h1V813h-1zM429 812h1V813h-1zM430 811h1V812h-1zM431 811h1V812h-1zM432 810h1V811h-1zM433 810h1V811h-1zM434 810h1V811h-1zM435 810h1V811h-1zM436 810h1V811h-1zM437 810h1V811h-1zM438 811h1V812h-1zM439 810h1V811h-1zM440 811h1V812h-1zM441 811h1V812h-1zM442 811h1V812h-1zM443 811h1V812h-1zM444 811h1V812h-1zM445 811h1V812h-1zM446 811h1V812h-1zM447 811h1V812h-1zM448 811h1V812h-1zM449 811h1V812h-1zM450 811h1V812h-1zM451 811h1V812h-1zM452 812h1V813h-1zM453 812h1V813h-1zM454 812h1V813h-1zM455 812h1V813h-1zM456 812h1V813h-1zM457 812h1V813h-1zM458 812h1V813h-1zM459 812h1V813h-1zM460 812h1V813h-1zM461 812h1V813h-1zM462 812h1V813h-1zM463 812h1V813h-1zM464 812h1V813h-1zM465 812h1V813h-1zM466 812h1V813h-1zM467 812h1V813h-1zM468 812h1V813h-1zM469 812h1V813h-1zM470 812h1V813h-1zM471 811h1V812h-1zM472 810h1V811h-1zM473 809h1V810h-1zM474 809h1V810h-1zM475 809h1V810h-1zM476 809h1V810h-1zM477 809h1V810h-1zM478 809h1V810h-1zM479 809h1V810h-1zM480 810h1V811h-1zM481 811h1V812h-1zM482 811h1V812h-1zM483 810h1V811h-1zM484 811h1V812h-1zM485 812h1V813h-1zM486 811h1V812h-1zM487 811h1V812h-1zM488 811h1V812h-1zM489 811h1V812h-1zM490 811h1V812h-1zM491 811h1V812h-1zM492 811h1V812h-1zM493 811h1V812h-1zM494 811h1V812h-1zM495 811h1V812h-1zM496 811h1V812h-1zM497 812h1V813h-1zM498 812h1V813h-1zM499 812h1V813h-1zM500 812h1V813h-1zM501 812h1V813h-1zM502 812h1V813h-1zM503 812h1V813h-1zM504 812h1V813h-1zM505 812h1V813h-1zM506 812h1V813h-1zM507 812h1V813h-1zM508 812h1V813h-1zM509 812h1V813h-1zM510 812h1V813h-1zM511 812h1V813h-1zM512 812h1V813h-1zM513 812h1V813h-1zM514 811h1V812h-1zM515 810h1V811h-1zM516 808h1V810h-1zM517 809h1V811h-1zM518 808h1V809h-1zM519 808h1V809h-1zM520 808h1V809h-1zM521 808h1V809h-1zM522 808h1V809h-1zM523 809h1V811h-1zM524 810h1V811h-1zM525 810h1V811h-1zM526 810h1V811h-1zM527 811h1V812h-1zM528 811h1V812h-1zM529 811h1V812h-1zM530 811h1V812h-1zM531 811h1V812h-1zM532 812h1V813h-1zM533 812h1V813h-1zM534 812h1V813h-1zM535 812h1V813h-1zM536 812h1V813h-1zM537 812h1V813h-1zM538 812h1V813h-1zM539 812h1V813h-1zM540 812h1V813h-1zM541 812h1V813h-1zM542 812h1V813h-1zM543 812h1V813h-1zM544 812h1V813h-1zM545 813h1V815h-1zM546 812h1V813h-1zM547 812h1V813h-1zM548 812h1V813h-1zM549 812h1V813h-1zM550 812h1V813h-1zM551 812h1V813h-1zM552 812h1V813h-1zM553 812h1V813h-1zM554 812h1V813h-1zM555 812h1V813h-1zM556 812h1V813h-1zM557 812h1V813h-1zM558 812h1V813h-1zM559 811h1V812h-1zM560 809h1V811h-1zM561 808h1V809h-1zM562 808h1V809h-1zM563 808h1V809h-1zM564 808h1V809h-1zM565 808h1V809h-1zM566 809h1V810h-1zM567 809h1V810h-1zM568 810h1V811h-1zM569 810h1V811h-1zM570 810h1V811h-1zM571 810h1V811h-1zM572 810h1V811h-1zM573 810h1V811h-1zM574 811h1V812h-1zM575 811h1V812h-1zM576 811h1V812h-1zM577 811h1V812h-1zM578 811h1V812h-1zM579 811h1V812h-1zM580 811h1V812h-1zM581 811h1V812h-1zM582 811h1V812h-1zM583 811h1V812h-1zM584 811h1V812h-1zM585 812h1V813h-1zM586 812h1V813h-1zM587 812h1V813h-1zM588 812h1V813h-1zM589 811h1V812h-1zM590 812h1V813h-1zM591 812h1V813h-1zM592 812h1V813h-1zM593 812h1V813h-1zM594 812h1V813h-1zM595 812h1V813h-1zM596 812h1V813h-1zM597 812h1V813h-1zM598 812h1V813h-1zM599 812h1V813h-1zM600 812h1V813h-1zM601 813h1V815h-1zM602 812h1V813h-1zM603 812h1V813h-1zM604 812h1V813h-1zM605 811h1V812h-1zM606 810h1V811h-1zM607 808h1V810h-1zM608 808h1V809h-1zM609 808h1V809h-1zM610 808h1V809h-1zM611 808h1V809h-1zM612 809h1V810h-1zM613 810h1V811h-1zM614 810h1V811h-1zM615 810h1V811h-1zM616 810h1V811h-1zM617 810h1V811h-1zM618 809h1V810h-1zM619 810h1V811h-1zM620 810h1V811h-1zM621 810h1V811h-1zM622 810h1V811h-1zM623 810h1V811h-1zM624 810h1V811h-1zM625 810h1V811h-1zM626 811h1V812h-1zM627 810h1V811h-1zM628 811h1V812h-1zM629 811h1V812h-1zM630 812h1V813h-1zM631 812h1V813h-1zM632 812h1V813h-1zM633 812h1V813h-1zM634 812h1V813h-1zM635 812h1V813h-1zM636 812h1V813h-1zM637 812h1V813h-1zM638 812h1V813h-1zM639 812h1V813h-1zM640 812h1V813h-1zM641 812h1V813h-1zM642 812h1V813h-1zM643 812h1V813h-1zM644 812h1V813h-1zM645 812h1V813h-1zM646 812h1V813h-1zM647 812h1V813h-1zM648 812h1V813h-1zM649 812h1V813h-1zM650 812h1V813h-1zM651 812h1V813h-1zM652 812h1V813h-1zM653 812h1V813h-1zM654 809h1V811h-1zM655 809h1V810h-1zM656 810h1V811h-1zM657 809h1V810h-1zM658 810h1V811h-1zM659 810h1V811h-1zM660 810h1V811h-1zM661 810h1V811h-1zM662 810h1V811h-1zM663 810h1V811h-1zM664 810h1V811h-1zM665 810h1V811h-1zM666 810h1V811h-1zM667 810h1V811h-1zM668 810h1V811h-1zM669 809h1V810h-1zM670 810h1V811h-1zM671 811h1V812h-1zM672 811h1V812h-1zM673 810h1V811h-1zM674 811h1V812h-1zM675 812h1V813h-1zM676 811h1V812h-1zM677 811h1V812h-1zM678 811h1V812h-1zM679 812h1V813h-1zM680 812h1V813h-1zM681 812h1V813h-1zM682 812h1V813h-1zM683 812h1V813h-1zM684 812h1V813h-1zM685 812h1V813h-1zM686 812h1V813h-1zM687 812h1V813h-1zM688 811h1V812h-1zM689 812h1V813h-1zM690 812h1V813h-1zM691 812h1V813h-1zM692 812h1V813h-1zM693 812h1V813h-1zM694 812h1V813h-1zM695 812h1V813h-1zM696 812h1V813h-1zM697 812h1V813h-1zM698 812h1V813h-1zM699 812h1V813h-1zM700 812h1V813h-1zM701 810h1V812h-1zM702 807h1V810h-1zM703 807h1V808h-1zM704 807h1V808h-1zM705 806h1V807h-1zM706 808h1V809h-1zM707 808h1V809h-1zM708 808h1V809h-1zM709 809h1V810h-1zM710 810h1V811h-1zM711 809h1V810h-1zM712 810h1V812h-1zM713 810h1V811h-1zM714 810h1V811h-1zM715 810h1V811h-1zM716 810h1V811h-1zM717 810h1V811h-1zM718 811h1V812h-1zM719 811h1V812h-1zM720 811h1V812h-1zM721 811h1V812h-1zM722 811h1V812h-1zM723 811h1V812h-1zM724 811h1V812h-1zM725 811h1V812h-1zM726 811h1V812h-1zM727 811h1V812h-1zM728 812h1V813h-1zM729 812h1V813h-1zM730 811h1V812h-1zM731 812h1V813h-1zM732 812h1V813h-1zM733 812h1V813h-1zM734 812h1V813h-1zM735 812h1V813h-1zM736 812h1V813h-1zM737 812h1V813h-1zM738 812h1V813h-1zM739 812h1V813h-1zM740 812h1V813h-1zM741 812h1V813h-1zM742 812h1V813h-1zM743 812h1V813h-1zM744 812h1V813h-1zM745 812h1V813h-1zM746 812h1V813h-1zM747 812h1V813h-1zM748 812h1V813h-1zM749 812h1V813h-1zM750 810h1V812h-1zM751 808h1V810h-1zM752 806h1V808h-1zM753 806h1V807h-1zM754 806h1V807h-1zM755 806h1V807h-1zM756 807h1V808h-1zM757 808h1V809h-1zM758 809h1V810h-1zM759 809h1V810h-1zM760 808h1V809h-1zM761 810h1V811h-1zM762 809h1V810h-1zM763 810h1V811h-1zM764 810h1V811h-1zM765 810h1V811h-1zM766 810h1V811h-1zM767 810h1V811h-1zM768 810h1V811h-1zM769 810h1V811h-1zM770 810h1V811h-1zM771 811h1V812h-1zM772 811h1V812h-1zM773 811h1V812h-1zM774 811h1V812h-1zM775 811h1V812h-1zM776 811h1V812h-1zM777 811h1V812h-1zM778 811h1V812h-1zM779 811h1V812h-1zM780 811h1V812h-1zM781 811h1V812h-1zM782 811h1V812h-1zM783 811h1V812h-1zM784 811h1V812h-1zM785 811h1V812h-1zM786 811h1V812h-1zM787 811h1V812h-1zM788 811h1V812h-1zM789 811h1V812h-1zM790 811h1V812h-1zM791 811h1V812h-1zM792 811h1V812h-1zM793 812h1V813h-1zM794 812h1V813h-1zM795 812h1V813h-1zM796 812h1V813h-1zM797 812h1V813h-1zM798 812h1V813h-1zM799 812h1V813h-1zM800 812h1V813h-1zM801 808h1V812h-1zM802 804h1V808h-1zM803 804h1V805h-1zM804 805h1V806h-1zM805 805h1V806h-1zM806 806h1V807h-1zM807 806h1V807h-1zM808 807h1V810h-1zM809 809h1V810h-1zM810 809h1V810h-1zM811 809h1V810h-1zM812 809h1V810h-1zM813 809h1V810h-1zM814 810h1V811h-1zM815 810h1V811h-1zM816 810h1V811h-1zM817 810h1V811h-1zM818 810h1V811h-1zM819 810h1V811h-1zM820 810h1V811h-1zM821 810h1V811h-1zM822 810h1V811h-1zM823 810h1V811h-1zM824 810h1V811h-1zM825 811h1V812h-1zM826 811h1V812h-1zM827 811h1V812h-1zM828 811h1V812h-1zM829 811h1V812h-1zM830 811h1V812h-1zM831 811h1V812h-1zM832 811h1V812h-1zM833 811h1V812h-1zM834 811h1V812h-1zM835 811h1V812h-1zM836 811h1V812h-1zM837 811h1V812h-1zM838 811h1V812h-1zM839 811h1V812h-1zM840 811h1V812h-1zM841 811h1V812h-1zM842 811h1V812h-1zM843 811h1V812h-1zM844 811h1V812h-1zM845 810h1V811h-1zM846 812h1V813h-1zM847 812h1V813h-1zM848 812h1V813h-1zM849 812h1V813h-1zM850 812h1V813h-1zM851 812h1V813h-1zM852 810h1V812h-1zM853 808h1V810h-1zM854 806h1V808h-1zM855 806h1V807h-1zM856 807h1V808h-1zM857 807h1V808h-1zM858 807h1V808h-1zM859 808h1V809h-1zM860 808h1V809h-1zM861 808h1V809h-1zM862 808h1V809h-1zM863 809h1V810h-1zM864 809h1V810h-1zM865 809h1V810h-1zM866 809h1V810h-1zM867 809h1V810h-1zM868 810h1V811h-1zM869 810h1V811h-1zM870 810h1V811h-1zM871 810h1V811h-1zM872 810h1V811h-1zM873 810h1V811h-1zM874 810h1V811h-1zM875 810h1V811h-1zM876 810h1V811h-1zM877 810h1V811h-1zM878 810h1V811h-1zM879 810h1V811h-1zM880 811h1V812h-1zM881 811h1V812h-1zM882 811h1V812h-1zM883 811h1V812h-1zM884 811h1V812h-1zM885 811h1V812h-1zM886 811h1V812h-1zM887 811h1V812h-1zM888 811h1V812h-1zM889 811h1V812h-1zM890 811h1V812h-1zM891 811h1V812h-1zM892 811h1V812h-1zM893 811h1V812h-1zM894 811h1V812h-1zM895 811h1V812h-1zM896 811h1V812h-1zM897 812h1V813h-1zM898 812h1V813h-1zM899 812h1V813h-1zM900 813h1V814h-1zM901 812h1V813h-1zM902 812h1V813h-1zM903 812h1V813h-1zM904 812h1V813h-1zM905 812h1V813h-1zM906 812h1V813h-1zM907 812h1V813h-1zM908 810h1V811h-1zM909 809h1V810h-1zM910 810h1V811h-1zM911 809h1V810h-1zM912 809h1V810h-1zM913 809h1V810h-1zM914 809h1V810h-1zM915 809h1V810h-1zM916 810h1V811h-1zM917 810h1V811h-1zM918 810h1V811h-1zM919 810h1V811h-1zM920 810h1V811h-1zM921 810h1V811h-1zM922 811h1V812h-1zM923 811h1V812h-1zM924 811h1V812h-1zM925 811h1V812h-1zM926 811h1V812h-1zM927 811h1V812h-1zM928 811h1V812h-1zM929 811h1V812h-1zM930 811h1V812h-1zM931 811h1V812h-1zM932 811h1V812h-1zM933 812h1V813h-1zM934 812h1V813h-1zM935 812h1V813h-1zM936 812h1V813h-1zM937 812h1V813h-1zM938 812h1V813h-1zM939 812h1V813h-1zM940 811h1V812h-1zM941 812h1V813h-1zM942 812h1V813h-1zM943 812h1V813h-1zM944 812h1V813h-1zM945 812h1V813h-1zM946 812h1V813h-1zM947 812h1V813h-1zM948 812h1V813h-1zM949 812h1V813h-1zM950 812h1V813h-1zM951 812h1V813h-1zM952 812h1V813h-1zM953 812h1V813h-1zM954 812h1V813h-1zM955 812h1V813h-1zM956 812h1V813h-1zM957 811h1V812h-1zM958 811h1V812h-1zM959 812h1V813h-1zM960 812h1V813h-1zM961 812h1V813h-1zM962 810h1V812h-1zM963 808h1V810h-1zM964 808h1V809h-1zM965 808h1V809h-1zM966 808h1V809h-1zM967 808h1V809h-1zM968 808h1V809h-1zM969 809h1V810h-1zM970 809h1V810h-1zM971 809h1V810h-1zM972 809h1V810h-1zM973 810h1V811h-1zM974 810h1V811h-1zM975 810h1V811h-1zM976 810h1V811h-1zM977 811h1V812h-1zM978 811h1V812h-1zM979 811h1V812h-1zM980 812h1V813h-1zM981 812h1V813h-1zM982 812h1V813h-1zM983 812h1V813h-1zM984 812h1V813h-1zM985 812h1V813h-1zM986 812h1V813h-1zM987 812h1V813h-1zM988 812h1V813h-1zM989 812h1V813h-1zM990 812h1V813h-1zM991 812h1V813h-1zM992 812h1V813h-1zM993 812h1V813h-1zM994 813h1V814h-1zM995 812h1V813h-1zM996 812h1V813h-1zM997 812h1V813h-1zM998 812h1V813h-1zM999 812h1V813h-1zM1000 812h1V813h-1zM1001 812h1V813h-1zM1002 812h1V813h-1zM1003 812h1V813h-1zM1004 812h1V813h-1zM1005 812h1V813h-1zM1006 812h1V813h-1zM1007 812h1V813h-1zM1008 812h1V813h-1zM1009 812h1V813h-1zM1010 812h1V813h-1zM1011 812h1V813h-1zM1012 812h1V813h-1zM1013 812h1V813h-1zM1014 812h1V813h-1zM1015 812h1V813h-1zM1016 812h1V813h-1zM1017 812h1V813h-1zM1018 812h1V813h-1zM1019 811h1V812h-1zM1020 810h1V811h-1zM1021 810h1V811h-1zM1022 809h1V810h-1zM1023 809h1V810h-1zM1024 809h1V810h-1zM1025 809h1V810h-1zM1026 809h1V810h-1zM1027 810h1V811h-1zM1028 809h1V810h-1zM1029 809h1V810h-1zM1030 809h1V810h-1zM1031 809h1V810h-1zM1032 809h1V810h-1zM1033 809h1V810h-1zM1034 809h1V810h-1zM1035 809h1V810h-1zM1036 809h1V810h-1zM1037 809h1V810h-1zM1038 810h1V811h-1zM1039 811h1V812h-1zM1040 812h1V813h-1zM1041 812h1V813h-1zM1042 812h1V813h-1zM1043 812h1V813h-1zM1044 813h1V814h-1zM1045 812h1V813h-1zM1046 812h1V813h-1zM1047 812h1V813h-1zM1048 812h1V813h-1zM1049 812h1V813h-1zM1050 812h1V813h-1zM1051 812h1V813h-1zM1052 812h1V813h-1zM1053 812h1V813h-1zM1054 812h1V813h-1zM1055 812h1V813h-1zM1056 812h1V813h-1zM1057 812h1V813h-1zM1058 812h1V813h-1zM1059 812h1V813h-1zM1060 812h1V813h-1zM1061 812h1V813h-1zM1062 812h1V813h-1zM1063 812h1V813h-1zM1064 812h1V813h-1zM1065 812h1V813h-1zM1066 812h1V813h-1zM1067 812h1V813h-1zM1068 812h1V813h-1zM1069 812h1V813h-1zM1070 812h1V813h-1zM1071 812h1V813h-1zM1072 812h1V813h-1zM1073 812h1V813h-1zM1074 811h1V812h-1zM192 808h1V821h-1zM193 808h1V816h-1zM194 808h1V815h-1zM195 809h1V813h-1zM196 810h1V812h-1zM201 810h1V816h-1zM229 813h1V822h-1zM230 808h3V812h-3zM237 808h2V817h-2zM267 813h1V829h-1zM268 754h1V843h-1zM269 760h1V836h-1zM270 770h1V843h-1zM269 730h1V756h-1zM276 799h1V842h-1zM277 807h1V812h-1zM306 813h1V822h-1zM307 808h4V812h-4zM315 794h1V825h-1zM346 808h1V822h-1zM347 808h3V811h-3zM354 805h3V812h-3zM386 813h1V821h-1zM387 808h3V811h-3zM395 804h1V812h-1zM428 812h1V827h-1zM430 786h1V833h-1zM431 808h1V821h-1zM436 782h2V836h-2zM471 793h1V828h-1zM472 805h1V821h-1zM478 802h2V812h-2zM514 812h1V823h-1zM515 808h2V813h-2zM522 803h1V811h-1zM559 812h2V824h-2zM561 807h3V811h-3zM567 803h1V811h-1zM605 812h2V825h-2zM607 808h4V812h-4zM611 797h2V813h-2zM613 786h1V843h-1zM652 790h1V825h-1zM653 800h1V819h-1zM654 808h3V812h-3zM659 802h2V819h-2zM701 812h1V825h-1zM702 807h3V811h-3zM707 802h2V811h-2zM750 812h1V825h-1zM751 806h4V812h-4zM755 803h3V811h-3zM801 812h1V824h-1zM802 803h4V811h-4zM806 802h2V811h-2zM852 812h2V829h-2zM854 806h4V811h-4zM858 802h2V811h-2zM907 768h1V836h-1zM908 805h1V814h-1zM909 807h1V820h-1zM910 773h1V851h-1zM911 791h1V818h-1zM912 804h1V812h-1zM962 748h1V901h-1zM963 799h1V827h-1zM964 806h1V824h-1zM965 803h1V816h-1zM966 769h1V830h-1zM1019 805h1V825h-1zM1020 805h1V807h-1zM1021 805h1V825h-1z"/><g fill="#fff" stroke="#000" stroke-width="0.6" font-family='"Liberation Serif", serif'><text x="160" y="67" font-size="28.8" text-anchor="end" textLength="66" lengthAdjust="spacingAndGlyphs">5×10</text><text x="162" y="54" font-size="17.5">4</text><text x="160" y="120" font-size="28.8" text-anchor="end" textLength="66" lengthAdjust="spacingAndGlyphs">4×10</text><text x="162" y="107" font-size="17.5">4</text><text x="160" y="180" font-size="28.8" text-anchor="end" textLength="66" lengthAdjust="spacingAndGlyphs">3×10</text><text x="162" y="167" font-size="17.5">4</text><text x="160" y="240" font-size="28.8" text-anchor="end" textLength="66" lengthAdjust="spacingAndGlyphs">2×10</text><text x="162" y="227" font-size="17.5">4</text><text x="160" y="300" font-size="28.8" text-anchor="end" textLength="66" lengthAdjust="spacingAndGlyphs">1×10</text><text x="162" y="287" font-size="17.5">4</text><text x="171" y="350" font-size="28.8" text-anchor="end">0</text><text x="160" y="367" font-size="28.8" text-anchor="end" textLength="66" lengthAdjust="spacingAndGlyphs">5×10</text><text x="162" y="354" font-size="17.5">4</text><text x="160" y="430" font-size="28.8" text-anchor="end" textLength="66" lengthAdjust="spacingAndGlyphs">4×10</text><text x="162" y="417" font-size="17.5">4</text><text x="160" y="500" font-size="28.8" text-anchor="end" textLength="66" lengthAdjust="spacingAndGlyphs">3×10</text><text x="162" y="487" font-size="17.5">4</text><text x="160" y="570" font-size="28.8" text-anchor="end" textLength="66" lengthAdjust="spacingAndGlyphs">2×10</text><text x="162" y="557" font-size="17.5">4</text><text x="160" y="640" font-size="28.8" text-anchor="end" textLength="66" lengthAdjust="spacingAndGlyphs">1×10</text><text x="162" y="627" font-size="17.5">4</text><text x="171" y="700" font-size="28.8" text-anchor="end">0</text><text x="171" y="731.0" font-size="28.8" text-anchor="end" textLength="37" lengthAdjust="spacingAndGlyphs">1.3</text><text x="171" y="762.2" font-size="28.8" text-anchor="end" textLength="37" lengthAdjust="spacingAndGlyphs">1.2</text><text x="171" y="793.4" font-size="28.8" text-anchor="end" textLength="37" lengthAdjust="spacingAndGlyphs">1.1</text><text x="171" y="824.6" font-size="28.8" text-anchor="end" textLength="37" lengthAdjust="spacingAndGlyphs">1.0</text><text x="171" y="855.8" font-size="28.8" text-anchor="end" textLength="37" lengthAdjust="spacingAndGlyphs">0.9</text><text x="171" y="887.0" font-size="28.8" text-anchor="end" textLength="37" lengthAdjust="spacingAndGlyphs">0.8</text><text x="320.0" y="936" font-size="28.8" text-anchor="middle" textLength="66" lengthAdjust="spacingAndGlyphs">7000</text><text x="566.0" y="936" font-size="28.8" text-anchor="middle" textLength="66" lengthAdjust="spacingAndGlyphs">7500</text><text x="812.0" y="936" font-size="28.8" text-anchor="middle" textLength="66" lengthAdjust="spacingAndGlyphs">8000</text><text x="1058.0" y="936" font-size="28.8" text-anchor="middle" textLength="66" lengthAdjust="spacingAndGlyphs">8500</text><text x="515.5" y="36" font-size="36.4" textLength="113.5" lengthAdjust="spacingAndGlyphs">IC2391</text><text x="633.5" y="34" font-size="36.4" textLength="24" lengthAdjust="spacingAndGlyphs">-</text><text x="661.5" y="36" font-size="36.4" textLength="82.5" lengthAdjust="spacingAndGlyphs">0004</text><text x="633.5" y="966.5" font-size="26.4" text-anchor="middle" textLength="201" lengthAdjust="spacingAndGlyphs">Wavelength, Å</text><text x="601" y="380" font-size="28" textLength="86" lengthAdjust="spacingAndGlyphs">shift=</text><text x="687" y="378.5" font-size="28" textLength="21" lengthAdjust="spacingAndGlyphs">-</text><text x="709.5" y="380" font-size="28" textLength="57.5" lengthAdjust="spacingAndGlyphs">8.00</text><text x="601" y="409.5" font-size="28" textLength="117" lengthAdjust="spacingAndGlyphs">scl=5.00</text><text x="70" y="200" font-size="28.7" text-anchor="middle" textLength="182" lengthAdjust="spacingAndGlyphs" transform="rotate(-90 70 200)">Relative flux</text><text x="70" y="525.5" font-size="28.7" text-anchor="middle" textLength="182" lengthAdjust="spacingAndGlyphs" transform="rotate(-90 70 525.5)">Relative flux</text><text x="107" y="800" font-size="28.7" text-anchor="middle" textLength="144" lengthAdjust="spacingAndGlyphs" transform="rotate(-90 107 800)">Orig/Redu</text></g></svg></body></html>
